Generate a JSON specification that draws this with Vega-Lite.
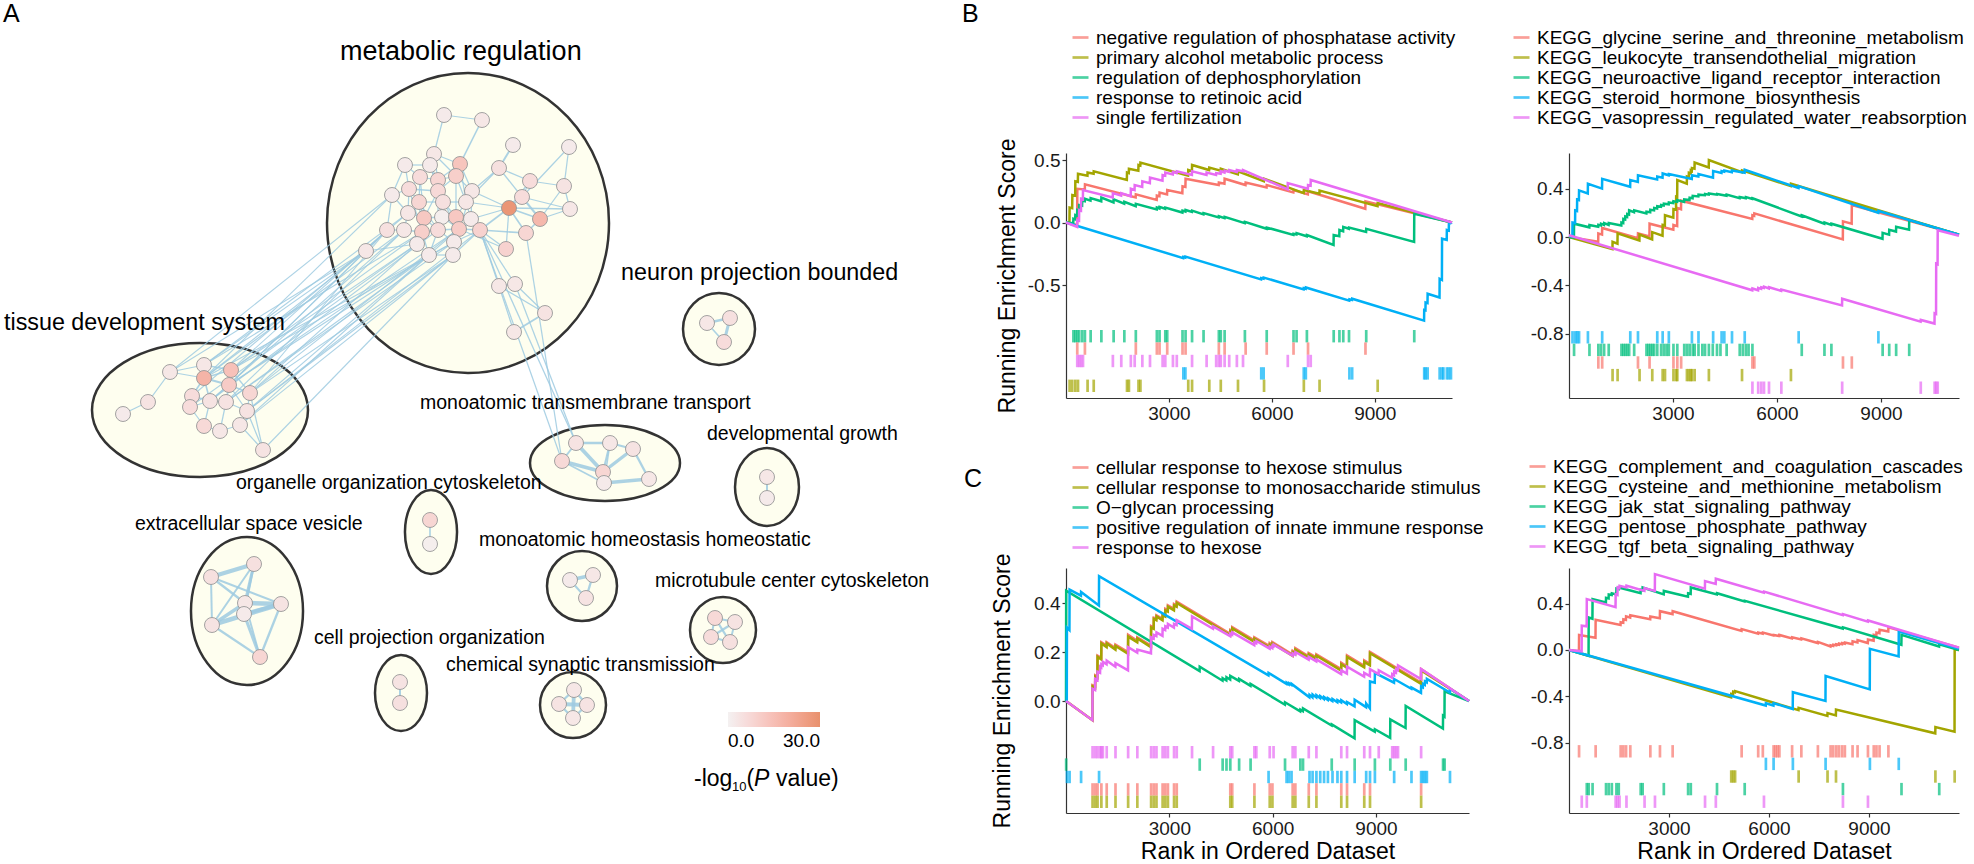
{
"$schema":"https://vega.github.io/schema/vega-lite/v6.json",
"padding":0,
"background":"white",
"config":{"font":"Liberation Sans","view":{"stroke":null},
"axis":{"domainColor":"#333333","domainWidth":1.2,"tickColor":"#333333","tickWidth":1.2,"tickSize":4,"labelFontSize":19,"labelColor":"#1a1a1a","labelFont":"Liberation Sans","titleFont":"Liberation Sans","titleFontSize":23,"titleFontWeight":"normal","titleColor":"#000000","grid":false,"labelPadding":2},
"legend":{"labelFont":"Liberation Sans","labelFontSize":19,"labelColor":"#000000","labelLimit":1000,"symbolType":"stroke","symbolStrokeWidth":2.7,"symbolSize":256,"rowPadding":0,"labelOffset":6,"padding":0}},
"datasets":{
"terms":[
{"id":"B1a","name":"negative regulation of phosphatase activity"},{"id":"B1b","name":"primary alcohol metabolic process"},{"id":"B1c","name":"regulation of dephosphorylation"},{"id":"B1d","name":"response to retinoic acid"},{"id":"B1e","name":"single fertilization"},
{"id":"B2a","name":"KEGG_glycine_serine_and_threonine_metabolism"},{"id":"B2b","name":"KEGG_leukocyte_transendothelial_migration"},{"id":"B2c","name":"KEGG_neuroactive_ligand_receptor_interaction"},{"id":"B2d","name":"KEGG_steroid_hormone_biosynthesis"},{"id":"B2e","name":"KEGG_vasopressin_regulated_water_reabsorption"},
{"id":"C1a","name":"cellular response to hexose stimulus"},{"id":"C1b","name":"cellular response to monosaccharide stimulus"},{"id":"C1c","name":"O−glycan processing"},{"id":"C1d","name":"positive regulation of innate immune response"},{"id":"C1e","name":"response to hexose"},
{"id":"C2a","name":"KEGG_complement_and_coagulation_cascades"},{"id":"C2b","name":"KEGG_cysteine_and_methionine_metabolism"},{"id":"C2c","name":"KEGG_jak_stat_signaling_pathway"},{"id":"C2d","name":"KEGG_pentose_phosphate_pathway"},{"id":"C2e","name":"KEGG_tgf_beta_signaling_pathway"}],
"curves":[
{"id":"B1a","r":0,"es":0},{"id":"B1a","r":325,"es":-0.02},{"id":"B1a","r":330,"es":0.27},{"id":"B1a","r":548,"es":0.265},{"id":"B1a","r":553,"es":0.305},{"id":"B1a","r":2030,"es":0.2},{"id":"B1a","r":2035,"es":0.225},{"id":"B1a","r":2643,"es":0.18},{"id":"B1a","r":2648,"es":0.215},{"id":"B1a","r":2722,"es":0.21},{"id":"B1a","r":2727,"es":0.24},{"id":"B1a","r":2945,"es":0.225},{"id":"B1a","r":2950,"es":0.26},{"id":"B1a","r":3391,"es":0.235},{"id":"B1a","r":3396,"es":0.29},{"id":"B1a","r":3480,"es":0.285},{"id":"B1a","r":3485,"es":0.35},{"id":"B1a","r":4450,"es":0.3},{"id":"B1a","r":4455,"es":0.32},{"id":"B1a","r":4618,"es":0.31},{"id":"B1a","r":4623,"es":0.35},{"id":"B1a","r":5231,"es":0.3},{"id":"B1a","r":5236,"es":0.32},{"id":"B1a","r":5845,"es":0.28},{"id":"B1a","r":5850,"es":0.3},{"id":"B1a","r":6626,"es":0.24},{"id":"B1a","r":6631,"es":0.26},{"id":"B1a","r":7049,"es":0.225},{"id":"B1a","r":7054,"es":0.25},{"id":"B1a","r":8723,"es":0.11},{"id":"B1a","r":8728,"es":0.17},{"id":"B1a","r":11250,"es":0},
{"id":"B1b","r":0,"es":0},{"id":"B1b","r":100,"es":-0.005},{"id":"B1b","r":105,"es":0.12},{"id":"B1b","r":180,"es":0.115},{"id":"B1b","r":185,"es":0.22},{"id":"B1b","r":268,"es":0.215},{"id":"B1b","r":272,"es":0.33},{"id":"B1b","r":345,"es":0.325},{"id":"B1b","r":350,"es":0.39},{"id":"B1b","r":625,"es":0.375},{"id":"B1b","r":629,"es":0.4},{"id":"B1b","r":805,"es":0.39},{"id":"B1b","r":808,"es":0.41},{"id":"B1b","r":1773,"es":0.34},{"id":"B1b","r":1778,"es":0.4},{"id":"B1b","r":1830,"es":0.395},{"id":"B1b","r":1834,"es":0.43},{"id":"B1b","r":2108,"es":0.415},{"id":"B1b","r":2113,"es":0.46},{"id":"B1b","r":2165,"es":0.455},{"id":"B1b","r":2169,"es":0.48},{"id":"B1b","r":3558,"es":0.375},{"id":"B1b","r":3563,"es":0.42},{"id":"B1b","r":3670,"es":0.41},{"id":"B1b","r":3674,"es":0.46},{"id":"B1b","r":4170,"es":0.42},{"id":"B1b","r":4176,"es":0.44},{"id":"B1b","r":4506,"es":0.415},{"id":"B1b","r":4511,"es":0.43},{"id":"B1b","r":5008,"es":0.385},{"id":"B1b","r":5013,"es":0.41},{"id":"B1b","r":5767,"es":0.33},{"id":"B1b","r":5772,"es":0.35},{"id":"B1b","r":6927,"es":0.235},{"id":"B1b","r":6932,"es":0.26},{"id":"B1b","r":7385,"es":0.23},{"id":"B1b","r":7390,"es":0.255},{"id":"B1b","r":9080,"es":0.13},{"id":"B1b","r":9084,"es":0.155},{"id":"B1b","r":11250,"es":0},
{"id":"B1c","r":0,"es":0},{"id":"B1c","r":212,"es":-0.005},{"id":"B1c","r":216,"es":0.03},{"id":"B1c","r":268,"es":0.025},{"id":"B1c","r":272,"es":0.06},{"id":"B1c","r":324,"es":0.055},{"id":"B1c","r":328,"es":0.1},{"id":"B1c","r":380,"es":0.095},{"id":"B1c","r":384,"es":0.14},{"id":"B1c","r":469,"es":0.135},{"id":"B1c","r":473,"es":0.175},{"id":"B1c","r":547,"es":0.17},{"id":"B1c","r":551,"es":0.19},{"id":"B1c","r":714,"es":0.175},{"id":"B1c","r":718,"es":0.195},{"id":"B1c","r":1027,"es":0.17},{"id":"B1c","r":1031,"es":0.2},{"id":"B1c","r":1384,"es":0.16},{"id":"B1c","r":1388,"es":0.185},{"id":"B1c","r":1696,"es":0.15},{"id":"B1c","r":1700,"es":0.165},{"id":"B1c","r":2031,"es":0.13},{"id":"B1c","r":2035,"es":0.15},{"id":"B1c","r":2644,"es":0.105},{"id":"B1c","r":2648,"es":0.12},{"id":"B1c","r":2723,"es":0.112},{"id":"B1c","r":2727,"es":0.125},{"id":"B1c","r":2890,"es":0.11},{"id":"B1c","r":2894,"es":0.12},{"id":"B1c","r":3392,"es":0.08},{"id":"B1c","r":3396,"es":0.095},{"id":"B1c","r":3481,"es":0.088},{"id":"B1c","r":3485,"es":0.1},{"id":"B1c","r":3670,"es":0.085},{"id":"B1c","r":3674,"es":0.095},{"id":"B1c","r":4005,"es":0.065},{"id":"B1c","r":4009,"es":0.075},{"id":"B1c","r":4451,"es":0.04},{"id":"B1c","r":4455,"es":0.05},{"id":"B1c","r":4619,"es":0.035},{"id":"B1c","r":4623,"es":0.045},{"id":"B1c","r":5210,"es":-0.005},{"id":"B1c","r":5214,"es":0.005},{"id":"B1c","r":5846,"es":-0.05},{"id":"B1c","r":5850,"es":-0.04},{"id":"B1c","r":6627,"es":-0.1},{"id":"B1c","r":6631,"es":-0.09},{"id":"B1c","r":6716,"es":-0.095},{"id":"B1c","r":6720,"es":-0.085},{"id":"B1c","r":7017,"es":-0.11},{"id":"B1c","r":7021,"es":-0.1},{"id":"B1c","r":7798,"es":-0.18},{"id":"B1c","r":7802,"es":-0.1},{"id":"B1c","r":7965,"es":-0.11},{"id":"B1c","r":7969,"es":-0.06},{"id":"B1c","r":8077,"es":-0.07},{"id":"B1c","r":8081,"es":-0.035},{"id":"B1c","r":8244,"es":-0.05},{"id":"B1c","r":8248,"es":-0.04},{"id":"B1c","r":8746,"es":-0.075},{"id":"B1c","r":8750,"es":-0.05},{"id":"B1c","r":10146,"es":-0.155},{"id":"B1c","r":10150,"es":0.07},{"id":"B1c","r":11250,"es":0},
{"id":"B1d","r":0,"es":0},{"id":"B1d","r":3416,"es":-0.285},{"id":"B1d","r":3420,"es":-0.275},{"id":"B1d","r":3476,"es":-0.28},{"id":"B1d","r":3480,"es":-0.272},{"id":"B1d","r":5686,"es":-0.455},{"id":"B1d","r":5690,"es":-0.445},{"id":"B1d","r":5756,"es":-0.45},{"id":"B1d","r":5760,"es":-0.44},{"id":"B1d","r":6926,"es":-0.535},{"id":"B1d","r":6930,"es":-0.525},{"id":"B1d","r":6986,"es":-0.53},{"id":"B1d","r":6990,"es":-0.52},{"id":"B1d","r":8256,"es":-0.625},{"id":"B1d","r":8260,"es":-0.615},{"id":"B1d","r":8336,"es":-0.62},{"id":"B1d","r":8340,"es":-0.61},{"id":"B1d","r":10436,"es":-0.785},{"id":"B1d","r":10440,"es":-0.7},{"id":"B1d","r":10476,"es":-0.703},{"id":"B1d","r":10480,"es":-0.64},{"id":"B1d","r":10536,"es":-0.645},{"id":"B1d","r":10540,"es":-0.57},{"id":"B1d","r":10886,"es":-0.6},{"id":"B1d","r":10890,"es":-0.45},{"id":"B1d","r":10956,"es":-0.46},{"id":"B1d","r":10960,"es":-0.13},{"id":"B1d","r":11096,"es":-0.14},{"id":"B1d","r":11100,"es":-0.06},{"id":"B1d","r":11156,"es":-0.065},{"id":"B1d","r":11160,"es":-0.01},{"id":"B1d","r":11250,"es":0},
{"id":"B1e","r":0,"es":0},{"id":"B1e","r":324,"es":-0.035},{"id":"B1e","r":328,"es":0.02},{"id":"B1e","r":380,"es":0.015},{"id":"B1e","r":384,"es":0.1},{"id":"B1e","r":436,"es":0.095},{"id":"B1e","r":440,"es":0.19},{"id":"B1e","r":492,"es":0.185},{"id":"B1e","r":496,"es":0.26},{"id":"B1e","r":1362,"es":0.2},{"id":"B1e","r":1366,"es":0.235},{"id":"B1e","r":1607,"es":0.215},{"id":"B1e","r":1611,"es":0.235},{"id":"B1e","r":1886,"es":0.21},{"id":"B1e","r":1890,"es":0.27},{"id":"B1e","r":1998,"es":0.26},{"id":"B1e","r":2002,"es":0.3},{"id":"B1e","r":2221,"es":0.285},{"id":"B1e","r":2225,"es":0.33},{"id":"B1e","r":2444,"es":0.315},{"id":"B1e","r":2448,"es":0.36},{"id":"B1e","r":2812,"es":0.335},{"id":"B1e","r":2816,"es":0.38},{"id":"B1e","r":2890,"es":0.375},{"id":"B1e","r":2894,"es":0.4},{"id":"B1e","r":3113,"es":0.385},{"id":"B1e","r":3117,"es":0.405},{"id":"B1e","r":3225,"es":0.395},{"id":"B1e","r":3229,"es":0.41},{"id":"B1e","r":3670,"es":0.38},{"id":"B1e","r":3674,"es":0.41},{"id":"B1e","r":4094,"es":0.38},{"id":"B1e","r":4098,"es":0.4},{"id":"B1e","r":4373,"es":0.38},{"id":"B1e","r":4377,"es":0.395},{"id":"B1e","r":4507,"es":0.39},{"id":"B1e","r":4511,"es":0.41},{"id":"B1e","r":4619,"es":0.4},{"id":"B1e","r":4623,"es":0.415},{"id":"B1e","r":4753,"es":0.405},{"id":"B1e","r":4757,"es":0.42},{"id":"B1e","r":4976,"es":0.405},{"id":"B1e","r":4980,"es":0.42},{"id":"B1e","r":5155,"es":0.41},{"id":"B1e","r":5159,"es":0.42},{"id":"B1e","r":6460,"es":0.265},{"id":"B1e","r":6464,"es":0.315},{"id":"B1e","r":7050,"es":0.27},{"id":"B1e","r":7054,"es":0.3},{"id":"B1e","r":7129,"es":0.295},{"id":"B1e","r":7133,"es":0.34},{"id":"B1e","r":11250,"es":0},
{"id":"B2a","r":0,"es":0},{"id":"B2a","r":842,"es":-0.04},{"id":"B2a","r":846,"es":0.03},{"id":"B2a","r":953,"es":0.02},{"id":"B2a","r":957,"es":0.075},{"id":"B2a","r":1986,"es":-0.01},{"id":"B2a","r":1990,"es":0.03},{"id":"B2a","r":2320,"es":0.005},{"id":"B2a","r":2324,"es":0.11},{"id":"B2a","r":3009,"es":0.06},{"id":"B2a","r":3013,"es":0.1},{"id":"B2a","r":3120,"es":0.09},{"id":"B2a","r":3124,"es":0.24},{"id":"B2a","r":3231,"es":0.23},{"id":"B2a","r":3235,"es":0.3},{"id":"B2a","r":5287,"es":0.15},{"id":"B2a","r":5291,"es":0.18},{"id":"B2a","r":5342,"es":0.175},{"id":"B2a","r":5346,"es":0.195},{"id":"B2a","r":7899,"es":-0.02},{"id":"B2a","r":7903,"es":0.13},{"id":"B2a","r":8154,"es":0.11},{"id":"B2a","r":8158,"es":0.265},{"id":"B2a","r":11250,"es":0.02},
{"id":"B2b","r":0,"es":0},{"id":"B2b","r":1253,"es":-0.1},{"id":"B2b","r":1257,"es":-0.04},{"id":"B2b","r":1398,"es":-0.055},{"id":"B2b","r":1402,"es":0.03},{"id":"B2b","r":2031,"es":-0.03},{"id":"B2b","r":2035,"es":0.02},{"id":"B2b","r":2398,"es":-0.02},{"id":"B2b","r":2402,"es":0.04},{"id":"B2b","r":2698,"es":0.01},{"id":"B2b","r":2702,"es":0.1},{"id":"B2b","r":2765,"es":0.095},{"id":"B2b","r":2769,"es":0.18},{"id":"B2b","r":3009,"es":0.16},{"id":"B2b","r":3013,"es":0.23},{"id":"B2b","r":3087,"es":0.225},{"id":"B2b","r":3091,"es":0.33},{"id":"B2b","r":3120,"es":0.325},{"id":"B2b","r":3124,"es":0.47},{"id":"B2b","r":3398,"es":0.44},{"id":"B2b","r":3402,"es":0.5},{"id":"B2b","r":3454,"es":0.495},{"id":"B2b","r":3458,"es":0.53},{"id":"B2b","r":3509,"es":0.525},{"id":"B2b","r":3513,"es":0.55},{"id":"B2b","r":3542,"es":0.545},{"id":"B2b","r":3546,"es":0.57},{"id":"B2b","r":3620,"es":0.565},{"id":"B2b","r":3624,"es":0.615},{"id":"B2b","r":4031,"es":0.575},{"id":"B2b","r":4035,"es":0.635},{"id":"B2b","r":4987,"es":0.535},{"id":"B2b","r":4991,"es":0.55},{"id":"B2b","r":6398,"es":0.42},{"id":"B2b","r":6402,"es":0.44},{"id":"B2b","r":11250,"es":0.02},
{"id":"B2c","r":0,"es":0},{"id":"B2c","r":142,"es":-0.005},{"id":"B2c","r":146,"es":0.11},{"id":"B2c","r":586,"es":0.08},{"id":"B2c","r":590,"es":0.1},{"id":"B2c","r":842,"es":0.085},{"id":"B2c","r":846,"es":0.1},{"id":"B2c","r":920,"es":0.095},{"id":"B2c","r":924,"es":0.11},{"id":"B2c","r":1009,"es":0.1},{"id":"B2c","r":1013,"es":0.115},{"id":"B2c","r":1142,"es":0.1},{"id":"B2c","r":1146,"es":0.115},{"id":"B2c","r":1509,"es":0.095},{"id":"B2c","r":1513,"es":0.12},{"id":"B2c","r":1564,"es":0.115},{"id":"B2c","r":1568,"es":0.15},{"id":"B2c","r":1620,"es":0.145},{"id":"B2c","r":1624,"es":0.17},{"id":"B2c","r":1676,"es":0.165},{"id":"B2c","r":1680,"es":0.19},{"id":"B2c","r":1731,"es":0.185},{"id":"B2c","r":1735,"es":0.22},{"id":"B2c","r":1876,"es":0.205},{"id":"B2c","r":1880,"es":0.22},{"id":"B2c","r":2231,"es":0.195},{"id":"B2c","r":2235,"es":0.21},{"id":"B2c","r":2342,"es":0.205},{"id":"B2c","r":2346,"es":0.225},{"id":"B2c","r":2453,"es":0.22},{"id":"B2c","r":2457,"es":0.24},{"id":"B2c","r":2542,"es":0.235},{"id":"B2c","r":2546,"es":0.255},{"id":"B2c","r":2653,"es":0.25},{"id":"B2c","r":2657,"es":0.265},{"id":"B2c","r":2731,"es":0.26},{"id":"B2c","r":2735,"es":0.275},{"id":"B2c","r":2876,"es":0.27},{"id":"B2c","r":2880,"es":0.285},{"id":"B2c","r":3009,"es":0.28},{"id":"B2c","r":3013,"es":0.295},{"id":"B2c","r":3120,"es":0.29},{"id":"B2c","r":3124,"es":0.305},{"id":"B2c","r":3320,"es":0.29},{"id":"B2c","r":3324,"es":0.31},{"id":"B2c","r":3476,"es":0.305},{"id":"B2c","r":3480,"es":0.325},{"id":"B2c","r":3565,"es":0.32},{"id":"B2c","r":3569,"es":0.34},{"id":"B2c","r":3731,"es":0.335},{"id":"B2c","r":3735,"es":0.35},{"id":"B2c","r":3920,"es":0.345},{"id":"B2c","r":3924,"es":0.355},{"id":"B2c","r":4031,"es":0.35},{"id":"B2c","r":4035,"es":0.36},{"id":"B2c","r":4265,"es":0.35},{"id":"B2c","r":4269,"es":0.355},{"id":"B2c","r":4543,"es":0.34},{"id":"B2c","r":4547,"es":0.35},{"id":"B2c","r":4921,"es":0.32},{"id":"B2c","r":4925,"es":0.33},{"id":"B2c","r":5098,"es":0.32},{"id":"B2c","r":5102,"es":0.33},{"id":"B2c","r":5287,"es":0.315},{"id":"B2c","r":5291,"es":0.32},{"id":"B2c","r":6710,"es":0.17},{"id":"B2c","r":6714,"es":0.18},{"id":"B2c","r":7365,"es":0.11},{"id":"B2c","r":7369,"es":0.12},{"id":"B2c","r":7565,"es":0.1},{"id":"B2c","r":7569,"es":0.11},{"id":"B2c","r":9043,"es":-0.015},{"id":"B2c","r":9047,"es":0.035},{"id":"B2c","r":9233,"es":0.02},{"id":"B2c","r":9237,"es":0.06},{"id":"B2c","r":9433,"es":0.045},{"id":"B2c","r":9437,"es":0.085},{"id":"B2c","r":9810,"es":0.06},{"id":"B2c","r":9814,"es":0.14},{"id":"B2c","r":11250,"es":0.02},
{"id":"B2d","r":0,"es":0.01},{"id":"B2d","r":97,"es":0.005},{"id":"B2d","r":101,"es":0.12},{"id":"B2d","r":175,"es":0.115},{"id":"B2d","r":179,"es":0.22},{"id":"B2d","r":231,"es":0.215},{"id":"B2d","r":235,"es":0.31},{"id":"B2d","r":286,"es":0.305},{"id":"B2d","r":290,"es":0.385},{"id":"B2d","r":542,"es":0.36},{"id":"B2d","r":546,"es":0.44},{"id":"B2d","r":953,"es":0.4},{"id":"B2d","r":957,"es":0.48},{"id":"B2d","r":1764,"es":0.415},{"id":"B2d","r":1768,"es":0.47},{"id":"B2d","r":1986,"es":0.455},{"id":"B2d","r":1990,"es":0.51},{"id":"B2d","r":2542,"es":0.475},{"id":"B2d","r":2546,"es":0.5},{"id":"B2d","r":2698,"es":0.49},{"id":"B2d","r":2702,"es":0.525},{"id":"B2d","r":2876,"es":0.51},{"id":"B2d","r":2880,"es":0.52},{"id":"B2d","r":3542,"es":0.48},{"id":"B2d","r":3546,"es":0.51},{"id":"B2d","r":3731,"es":0.5},{"id":"B2d","r":3735,"es":0.52},{"id":"B2d","r":4154,"es":0.49},{"id":"B2d","r":4158,"es":0.545},{"id":"B2d","r":4398,"es":0.53},{"id":"B2d","r":4402,"es":0.545},{"id":"B2d","r":4476,"es":0.54},{"id":"B2d","r":4480,"es":0.55},{"id":"B2d","r":4698,"es":0.535},{"id":"B2d","r":4702,"es":0.55},{"id":"B2d","r":5065,"es":0.53},{"id":"B2d","r":5069,"es":0.555},{"id":"B2d","r":6621,"es":0.405},{"id":"B2d","r":6625,"es":0.42},{"id":"B2d","r":8921,"es":0.2},{"id":"B2d","r":8925,"es":0.215},{"id":"B2d","r":11250,"es":0.02},
{"id":"B2e","r":0,"es":0.015},{"id":"B2e","r":5287,"es":-0.44},{"id":"B2e","r":5291,"es":-0.425},{"id":"B2e","r":5454,"es":-0.44},{"id":"B2e","r":5458,"es":-0.42},{"id":"B2e","r":5543,"es":-0.428},{"id":"B2e","r":5547,"es":-0.415},{"id":"B2e","r":5621,"es":-0.42},{"id":"B2e","r":5625,"es":-0.41},{"id":"B2e","r":5765,"es":-0.425},{"id":"B2e","r":5769,"es":-0.415},{"id":"B2e","r":6121,"es":-0.445},{"id":"B2e","r":6125,"es":-0.435},{"id":"B2e","r":7876,"es":-0.565},{"id":"B2e","r":7880,"es":-0.51},{"id":"B2e","r":10143,"es":-0.7},{"id":"B2e","r":10147,"es":-0.685},{"id":"B2e","r":10543,"es":-0.715},{"id":"B2e","r":10547,"es":-0.63},{"id":"B2e","r":10588,"es":-0.635},{"id":"B2e","r":10592,"es":-0.22},{"id":"B2e","r":10632,"es":-0.225},{"id":"B2e","r":10636,"es":0.055},{"id":"B2e","r":11250,"es":0.01},
{"id":"C1a","r":0,"es":0},{"id":"C1a","r":767,"es":-0.078},{"id":"C1a","r":771,"es":0.065},{"id":"C1a","r":845,"es":0.06},{"id":"C1a","r":849,"es":0.105},{"id":"C1a","r":912,"es":0.1},{"id":"C1a","r":916,"es":0.185},{"id":"C1a","r":1023,"es":0.176},{"id":"C1a","r":1027,"es":0.24},{"id":"C1a","r":1178,"es":0.226},{"id":"C1a","r":1182,"es":0.24},{"id":"C1a","r":1433,"es":0.216},{"id":"C1a","r":1437,"es":0.23},{"id":"C1a","r":1800,"es":0.2},{"id":"C1a","r":1804,"es":0.27},{"id":"C1a","r":2067,"es":0.246},{"id":"C1a","r":2071,"es":0.26},{"id":"C1a","r":2467,"es":0.226},{"id":"C1a","r":2471,"es":0.306},{"id":"C1a","r":2545,"es":0.3},{"id":"C1a","r":2549,"es":0.34},{"id":"C1a","r":2623,"es":0.336},{"id":"C1a","r":2627,"es":0.35},{"id":"C1a","r":2801,"es":0.336},{"id":"C1a","r":2805,"es":0.356},{"id":"C1a","r":2879,"es":0.35},{"id":"C1a","r":2883,"es":0.376},{"id":"C1a","r":2955,"es":0.37},{"id":"C1a","r":2959,"es":0.39},{"id":"C1a","r":3133,"es":0.376},{"id":"C1a","r":3137,"es":0.396},{"id":"C1a","r":3211,"es":0.39},{"id":"C1a","r":3215,"es":0.406},{"id":"C1a","r":4766,"es":0.274},{"id":"C1a","r":4770,"es":0.29},{"id":"C1a","r":4822,"es":0.286},{"id":"C1a","r":4826,"es":0.302},{"id":"C1a","r":5466,"es":0.248},{"id":"C1a","r":5470,"es":0.26},{"id":"C1a","r":5911,"es":0.224},{"id":"C1a","r":5915,"es":0.236},{"id":"C1a","r":5989,"es":0.23},{"id":"C1a","r":5993,"es":0.24},{"id":"C1a","r":6577,"es":0.19},{"id":"C1a","r":6581,"es":0.205},{"id":"C1a","r":6655,"es":0.2},{"id":"C1a","r":6659,"es":0.216},{"id":"C1a","r":7044,"es":0.183},{"id":"C1a","r":7048,"es":0.196},{"id":"C1a","r":7266,"es":0.178},{"id":"C1a","r":7270,"es":0.19},{"id":"C1a","r":7988,"es":0.13},{"id":"C1a","r":7992,"es":0.156},{"id":"C1a","r":8155,"es":0.142},{"id":"C1a","r":8159,"es":0.186},{"id":"C1a","r":8655,"es":0.144},{"id":"C1a","r":8659,"es":0.166},{"id":"C1a","r":8822,"es":0.152},{"id":"C1a","r":8826,"es":0.2},{"id":"C1a","r":10306,"es":0.075},{"id":"C1a","r":10310,"es":0.13},{"id":"C1a","r":11700,"es":0},
{"id":"C1b","r":0,"es":0},{"id":"C1b","r":767,"es":-0.078},{"id":"C1b","r":771,"es":0.06},{"id":"C1b","r":845,"es":0.054},{"id":"C1b","r":849,"es":0.1},{"id":"C1b","r":912,"es":0.095},{"id":"C1b","r":916,"es":0.18},{"id":"C1b","r":1023,"es":0.17},{"id":"C1b","r":1027,"es":0.235},{"id":"C1b","r":1178,"es":0.22},{"id":"C1b","r":1182,"es":0.235},{"id":"C1b","r":1433,"es":0.21},{"id":"C1b","r":1437,"es":0.225},{"id":"C1b","r":1800,"es":0.193},{"id":"C1b","r":1804,"es":0.263},{"id":"C1b","r":2067,"es":0.24},{"id":"C1b","r":2071,"es":0.255},{"id":"C1b","r":2467,"es":0.22},{"id":"C1b","r":2471,"es":0.3},{"id":"C1b","r":2545,"es":0.295},{"id":"C1b","r":2549,"es":0.335},{"id":"C1b","r":2623,"es":0.33},{"id":"C1b","r":2627,"es":0.345},{"id":"C1b","r":2801,"es":0.33},{"id":"C1b","r":2805,"es":0.35},{"id":"C1b","r":2879,"es":0.345},{"id":"C1b","r":2883,"es":0.37},{"id":"C1b","r":2955,"es":0.365},{"id":"C1b","r":2959,"es":0.385},{"id":"C1b","r":3133,"es":0.37},{"id":"C1b","r":3137,"es":0.39},{"id":"C1b","r":3211,"es":0.385},{"id":"C1b","r":3215,"es":0.4},{"id":"C1b","r":4766,"es":0.268},{"id":"C1b","r":4770,"es":0.285},{"id":"C1b","r":4822,"es":0.281},{"id":"C1b","r":4826,"es":0.296},{"id":"C1b","r":5466,"es":0.242},{"id":"C1b","r":5470,"es":0.255},{"id":"C1b","r":5911,"es":0.218},{"id":"C1b","r":5915,"es":0.23},{"id":"C1b","r":5989,"es":0.224},{"id":"C1b","r":5993,"es":0.235},{"id":"C1b","r":6577,"es":0.185},{"id":"C1b","r":6581,"es":0.2},{"id":"C1b","r":6655,"es":0.194},{"id":"C1b","r":6659,"es":0.21},{"id":"C1b","r":7044,"es":0.177},{"id":"C1b","r":7048,"es":0.19},{"id":"C1b","r":7266,"es":0.172},{"id":"C1b","r":7270,"es":0.185},{"id":"C1b","r":7988,"es":0.124},{"id":"C1b","r":7992,"es":0.15},{"id":"C1b","r":8155,"es":0.136},{"id":"C1b","r":8159,"es":0.18},{"id":"C1b","r":8655,"es":0.138},{"id":"C1b","r":8659,"es":0.16},{"id":"C1b","r":8822,"es":0.146},{"id":"C1b","r":8826,"es":0.195},{"id":"C1b","r":10306,"es":0.07},{"id":"C1b","r":10310,"es":0.125},{"id":"C1b","r":11700,"es":0},
{"id":"C1c","r":0,"es":0},{"id":"C1c","r":5,"es":0.45},{"id":"C1c","r":3878,"es":0.122},{"id":"C1c","r":3882,"es":0.14},{"id":"C1c","r":4544,"es":0.083},{"id":"C1c","r":4548,"es":0.093},{"id":"C1c","r":4655,"es":0.084},{"id":"C1c","r":4659,"es":0.097},{"id":"C1c","r":4766,"es":0.088},{"id":"C1c","r":4770,"es":0.103},{"id":"C1c","r":5022,"es":0.082},{"id":"C1c","r":5026,"es":0.09},{"id":"C1c","r":5355,"es":0.062},{"id":"C1c","r":5359,"es":0.07},{"id":"C1c","r":6355,"es":-0.015},{"id":"C1c","r":6359,"es":-0.005},{"id":"C1c","r":6799,"es":-0.042},{"id":"C1c","r":6803,"es":-0.035},{"id":"C1c","r":6877,"es":-0.041},{"id":"C1c","r":6881,"es":-0.03},{"id":"C1c","r":7711,"es":-0.1},{"id":"C1c","r":7715,"es":-0.095},{"id":"C1c","r":8377,"es":-0.152},{"id":"C1c","r":8381,"es":-0.078},{"id":"C1c","r":8964,"es":-0.125},{"id":"C1c","r":8968,"es":-0.115},{"id":"C1c","r":9411,"es":-0.15},{"id":"C1c","r":9415,"es":-0.075},{"id":"C1c","r":9858,"es":-0.11},{"id":"C1c","r":9862,"es":-0.02},{"id":"C1c","r":10943,"es":-0.112},{"id":"C1c","r":10947,"es":-0.06},{"id":"C1c","r":10988,"es":-0.064},{"id":"C1c","r":10992,"es":0.04},{"id":"C1c","r":11700,"es":0},
{"id":"C1d","r":0,"es":0},{"id":"C1d","r":23,"es":-0.002},{"id":"C1d","r":27,"es":0.3},{"id":"C1d","r":100,"es":0.29},{"id":"C1d","r":104,"es":0.455},{"id":"C1d","r":434,"es":0.43},{"id":"C1d","r":438,"es":0.445},{"id":"C1d","r":956,"es":0.39},{"id":"C1d","r":960,"es":0.51},{"id":"C1d","r":5877,"es":0.105},{"id":"C1d","r":5881,"es":0.115},{"id":"C1d","r":6400,"es":0.07},{"id":"C1d","r":6404,"es":0.075},{"id":"C1d","r":6466,"es":0.068},{"id":"C1d","r":6470,"es":0.073},{"id":"C1d","r":6544,"es":0.066},{"id":"C1d","r":6548,"es":0.07},{"id":"C1d","r":7066,"es":0.015},{"id":"C1d","r":7070,"es":0.025},{"id":"C1d","r":7155,"es":0.015},{"id":"C1d","r":7159,"es":0.027},{"id":"C1d","r":7266,"es":0.015},{"id":"C1d","r":7270,"es":0.024},{"id":"C1d","r":7377,"es":0.012},{"id":"C1d","r":7381,"es":0.02},{"id":"C1d","r":7488,"es":0.008},{"id":"C1d","r":7492,"es":0.016},{"id":"C1d","r":7600,"es":0.005},{"id":"C1d","r":7604,"es":0.012},{"id":"C1d","r":7733,"es":0},{"id":"C1d","r":7737,"es":0.008},{"id":"C1d","r":7877,"es":-0.005},{"id":"C1d","r":7881,"es":0.004},{"id":"C1d","r":7988,"es":-0.005},{"id":"C1d","r":7992,"es":0.003},{"id":"C1d","r":8155,"es":-0.012},{"id":"C1d","r":8159,"es":-0.004},{"id":"C1d","r":8377,"es":-0.022},{"id":"C1d","r":8381,"es":0.005},{"id":"C1d","r":8711,"es":-0.025},{"id":"C1d","r":8715,"es":-0.01},{"id":"C1d","r":8822,"es":-0.03},{"id":"C1d","r":8826,"es":0.08},{"id":"C1d","r":8964,"es":0.075},{"id":"C1d","r":8968,"es":0.115},{"id":"C1d","r":9523,"es":0.075},{"id":"C1d","r":9527,"es":0.09},{"id":"C1d","r":10026,"es":0.05},{"id":"C1d","r":10030,"es":0.055},{"id":"C1d","r":10306,"es":0.033},{"id":"C1d","r":10310,"es":0.06},{"id":"C1d","r":10361,"es":0.056},{"id":"C1d","r":10365,"es":0.07},{"id":"C1d","r":10417,"es":0.066},{"id":"C1d","r":10421,"es":0.08},{"id":"C1d","r":10473,"es":0.076},{"id":"C1d","r":10477,"es":0.09},{"id":"C1d","r":11144,"es":0.035},{"id":"C1d","r":11148,"es":0.05},{"id":"C1d","r":11700,"es":0},
{"id":"C1e","r":0,"es":0},{"id":"C1e","r":767,"es":-0.078},{"id":"C1e","r":771,"es":0.05},{"id":"C1e","r":845,"es":0.045},{"id":"C1e","r":849,"es":0.09},{"id":"C1e","r":912,"es":0.085},{"id":"C1e","r":916,"es":0.12},{"id":"C1e","r":989,"es":0.115},{"id":"C1e","r":993,"es":0.14},{"id":"C1e","r":1023,"es":0.137},{"id":"C1e","r":1027,"es":0.15},{"id":"C1e","r":1067,"es":0.146},{"id":"C1e","r":1071,"es":0.16},{"id":"C1e","r":1178,"es":0.15},{"id":"C1e","r":1182,"es":0.165},{"id":"C1e","r":1433,"es":0.14},{"id":"C1e","r":1437,"es":0.155},{"id":"C1e","r":1800,"es":0.125},{"id":"C1e","r":1804,"es":0.22},{"id":"C1e","r":2067,"es":0.198},{"id":"C1e","r":2071,"es":0.21},{"id":"C1e","r":2467,"es":0.195},{"id":"C1e","r":2471,"es":0.26},{"id":"C1e","r":2545,"es":0.255},{"id":"C1e","r":2549,"es":0.27},{"id":"C1e","r":2623,"es":0.265},{"id":"C1e","r":2627,"es":0.28},{"id":"C1e","r":2801,"es":0.266},{"id":"C1e","r":2805,"es":0.295},{"id":"C1e","r":2879,"es":0.29},{"id":"C1e","r":2883,"es":0.305},{"id":"C1e","r":2955,"es":0.3},{"id":"C1e","r":2959,"es":0.315},{"id":"C1e","r":3133,"es":0.3},{"id":"C1e","r":3137,"es":0.315},{"id":"C1e","r":3211,"es":0.31},{"id":"C1e","r":3215,"es":0.33},{"id":"C1e","r":3655,"es":0.295},{"id":"C1e","r":3659,"es":0.345},{"id":"C1e","r":4266,"es":0.295},{"id":"C1e","r":4270,"es":0.305},{"id":"C1e","r":4766,"es":0.265},{"id":"C1e","r":4770,"es":0.275},{"id":"C1e","r":4822,"es":0.271},{"id":"C1e","r":4826,"es":0.28},{"id":"C1e","r":5466,"es":0.228},{"id":"C1e","r":5470,"es":0.24},{"id":"C1e","r":5522,"es":0.236},{"id":"C1e","r":5526,"es":0.245},{"id":"C1e","r":5911,"es":0.214},{"id":"C1e","r":5915,"es":0.222},{"id":"C1e","r":5989,"es":0.216},{"id":"C1e","r":5993,"es":0.225},{"id":"C1e","r":6022,"es":0.223},{"id":"C1e","r":6026,"es":0.23},{"id":"C1e","r":6577,"es":0.185},{"id":"C1e","r":6581,"es":0.195},{"id":"C1e","r":6655,"es":0.189},{"id":"C1e","r":6659,"es":0.2},{"id":"C1e","r":7044,"es":0.169},{"id":"C1e","r":7048,"es":0.18},{"id":"C1e","r":7266,"es":0.162},{"id":"C1e","r":7270,"es":0.17},{"id":"C1e","r":7988,"es":0.11},{"id":"C1e","r":7992,"es":0.125},{"id":"C1e","r":8155,"es":0.112},{"id":"C1e","r":8159,"es":0.14},{"id":"C1e","r":8655,"es":0.1},{"id":"C1e","r":8659,"es":0.115},{"id":"C1e","r":8822,"es":0.102},{"id":"C1e","r":8826,"es":0.13},{"id":"C1e","r":9076,"es":0.11},{"id":"C1e","r":9080,"es":0.125},{"id":"C1e","r":9467,"es":0.095},{"id":"C1e","r":9471,"es":0.11},{"id":"C1e","r":9523,"es":0.106},{"id":"C1e","r":9527,"es":0.12},{"id":"C1e","r":9579,"es":0.116},{"id":"C1e","r":9583,"es":0.13},{"id":"C1e","r":9635,"es":0.126},{"id":"C1e","r":9639,"es":0.145},{"id":"C1e","r":10306,"es":0.09},{"id":"C1e","r":10310,"es":0.13},{"id":"C1e","r":11700,"es":0},
{"id":"C2a","r":0,"es":0},{"id":"C2a","r":298,"es":-0.01},{"id":"C2a","r":302,"es":0.13},{"id":"C2a","r":795,"es":0.105},{"id":"C2a","r":799,"es":0.26},{"id":"C2a","r":1546,"es":0.215},{"id":"C2a","r":1550,"es":0.24},{"id":"C2a","r":1627,"es":0.235},{"id":"C2a","r":1631,"es":0.265},{"id":"C2a","r":1708,"es":0.26},{"id":"C2a","r":1712,"es":0.29},{"id":"C2a","r":1835,"es":0.28},{"id":"C2a","r":1839,"es":0.3},{"id":"C2a","r":2436,"es":0.265},{"id":"C2a","r":2440,"es":0.29},{"id":"C2a","r":2725,"es":0.275},{"id":"C2a","r":2729,"es":0.335},{"id":"C2a","r":3106,"es":0.31},{"id":"C2a","r":3110,"es":0.335},{"id":"C2a","r":5175,"es":0.165},{"id":"C2a","r":5179,"es":0.18},{"id":"C2a","r":5672,"es":0.14},{"id":"C2a","r":5676,"es":0.15},{"id":"C2a","r":5811,"es":0.14},{"id":"C2a","r":5815,"es":0.15},{"id":"C2a","r":6134,"es":0.125},{"id":"C2a","r":6138,"es":0.13},{"id":"C2a","r":6308,"es":0.12},{"id":"C2a","r":6312,"es":0.13},{"id":"C2a","r":6689,"es":0.1},{"id":"C2a","r":6693,"es":0.11},{"id":"C2a","r":6966,"es":0.09},{"id":"C2a","r":6970,"es":0.1},{"id":"C2a","r":7463,"es":0.06},{"id":"C2a","r":7467,"es":0.07},{"id":"C2a","r":7844,"es":0.03},{"id":"C2a","r":7848,"es":0.04},{"id":"C2a","r":7925,"es":0.035},{"id":"C2a","r":7929,"es":0.045},{"id":"C2a","r":8017,"es":0.04},{"id":"C2a","r":8021,"es":0.05},{"id":"C2a","r":8098,"es":0.045},{"id":"C2a","r":8102,"es":0.055},{"id":"C2a","r":8191,"es":0.05},{"id":"C2a","r":8195,"es":0.06},{"id":"C2a","r":8272,"es":0.055},{"id":"C2a","r":8276,"es":0.065},{"id":"C2a","r":8503,"es":0.05},{"id":"C2a","r":8507,"es":0.075},{"id":"C2a","r":8653,"es":0.065},{"id":"C2a","r":8657,"es":0.085},{"id":"C2a","r":8965,"es":0.06},{"id":"C2a","r":8969,"es":0.09},{"id":"C2a","r":9139,"es":0.08},{"id":"C2a","r":9143,"es":0.13},{"id":"C2a","r":9220,"es":0.125},{"id":"C2a","r":9224,"es":0.15},{"id":"C2a","r":9313,"es":0.145},{"id":"C2a","r":9317,"es":0.175},{"id":"C2a","r":9578,"es":0.16},{"id":"C2a","r":9582,"es":0.195},{"id":"C2a","r":11700,"es":0.02},
{"id":"C2b","r":0,"es":0},{"id":"C2b","r":4863,"es":-0.41},{"id":"C2b","r":4867,"es":-0.38},{"id":"C2b","r":4921,"es":-0.385},{"id":"C2b","r":4925,"es":-0.36},{"id":"C2b","r":4979,"es":-0.365},{"id":"C2b","r":4983,"es":-0.355},{"id":"C2b","r":6885,"es":-0.52},{"id":"C2b","r":6889,"es":-0.5},{"id":"C2b","r":7752,"es":-0.57},{"id":"C2b","r":7756,"es":-0.545},{"id":"C2b","r":8006,"es":-0.565},{"id":"C2b","r":8010,"es":-0.515},{"id":"C2b","r":10988,"es":-0.72},{"id":"C2b","r":10992,"es":-0.665},{"id":"C2b","r":11566,"es":-0.705},{"id":"C2b","r":11570,"es":0.003},{"id":"C2b","r":11700,"es":0},
{"id":"C2c","r":0,"es":0},{"id":"C2c","r":587,"es":-0.05},{"id":"C2c","r":591,"es":0.28},{"id":"C2c","r":703,"es":0.27},{"id":"C2c","r":707,"es":0.44},{"id":"C2c","r":1107,"es":0.41},{"id":"C2c","r":1111,"es":0.45},{"id":"C2c","r":1188,"es":0.445},{"id":"C2c","r":1192,"es":0.48},{"id":"C2c","r":1281,"es":0.475},{"id":"C2c","r":1285,"es":0.49},{"id":"C2c","r":1419,"es":0.48},{"id":"C2c","r":1423,"es":0.53},{"id":"C2c","r":1489,"es":0.525},{"id":"C2c","r":1493,"es":0.54},{"id":"C2c","r":2147,"es":0.49},{"id":"C2c","r":2151,"es":0.52},{"id":"C2c","r":2205,"es":0.515},{"id":"C2c","r":2209,"es":0.54},{"id":"C2c","r":2841,"es":0.48},{"id":"C2c","r":2845,"es":0.51},{"id":"C2c","r":3569,"es":0.46},{"id":"C2c","r":3573,"es":0.49},{"id":"C2c","r":3650,"es":0.485},{"id":"C2c","r":3654,"es":0.54},{"id":"C2c","r":4436,"es":0.48},{"id":"C2c","r":4440,"es":0.49},{"id":"C2c","r":5267,"es":0.42},{"id":"C2c","r":5271,"es":0.425},{"id":"C2c","r":8214,"es":0.185},{"id":"C2c","r":8218,"es":0.195},{"id":"C2c","r":9971,"es":0.045},{"id":"C2c","r":9975,"es":0.13},{"id":"C2c","r":11103,"es":0.03},{"id":"C2c","r":11107,"es":0.05},{"id":"C2c","r":11700,"es":0},
{"id":"C2d","r":0,"es":0},{"id":"C2d","r":5903,"es":-0.48},{"id":"C2d","r":5907,"es":-0.46},{"id":"C2d","r":6134,"es":-0.48},{"id":"C2d","r":6138,"es":-0.46},{"id":"C2d","r":6712,"es":-0.51},{"id":"C2d","r":6716,"es":-0.365},{"id":"C2d","r":7694,"es":-0.44},{"id":"C2d","r":7698,"es":-0.225},{"id":"C2d","r":9023,"es":-0.34},{"id":"C2d","r":9027,"es":0.01},{"id":"C2d","r":9889,"es":-0.055},{"id":"C2d","r":9893,"es":0.16},{"id":"C2d","r":11700,"es":0.01},
{"id":"C2e","r":0,"es":0},{"id":"C2e","r":379,"es":-0.012},{"id":"C2e","r":383,"es":0.21},{"id":"C2e","r":530,"es":0.205},{"id":"C2e","r":534,"es":0.44},{"id":"C2e","r":1396,"es":0.37},{"id":"C2e","r":1400,"es":0.48},{"id":"C2e","r":1454,"es":0.475},{"id":"C2e","r":1458,"es":0.54},{"id":"C2e","r":1512,"es":0.535},{"id":"C2e","r":1516,"es":0.555},{"id":"C2e","r":1720,"es":0.54},{"id":"C2e","r":1724,"es":0.555},{"id":"C2e","r":2263,"es":0.51},{"id":"C2e","r":2267,"es":0.535},{"id":"C2e","r":2575,"es":0.51},{"id":"C2e","r":2579,"es":0.655},{"id":"C2e","r":4077,"es":0.53},{"id":"C2e","r":4081,"es":0.595},{"id":"C2e","r":4401,"es":0.57},{"id":"C2e","r":4405,"es":0.615},{"id":"C2e","r":5845,"es":0.495},{"id":"C2e","r":5849,"es":0.505},{"id":"C2e","r":8214,"es":0.3},{"id":"C2e","r":8218,"es":0.31},{"id":"C2e","r":8965,"es":0.245},{"id":"C2e","r":8969,"es":0.255},{"id":"C2e","r":11700,"es":0.02}
],
"ticks":[
{"id":"B1c","r":216},{"id":"B1c","r":272},{"id":"B1c","r":328},{"id":"B1c","r":384},{"id":"B1c","r":473},{"id":"B1c","r":551},{"id":"B1c","r":718},{"id":"B1c","r":1031},{"id":"B1c","r":1388},{"id":"B1c","r":1700},{"id":"B1c","r":2035},{"id":"B1c","r":2648},{"id":"B1c","r":2727},{"id":"B1c","r":2894},{"id":"B1c","r":2950},{"id":"B1c","r":3396},{"id":"B1c","r":3485},{"id":"B1c","r":3674},{"id":"B1c","r":4009},{"id":"B1c","r":4455},{"id":"B1c","r":4511},{"id":"B1c","r":4623},{"id":"B1c","r":5214},{"id":"B1c","r":5850},{"id":"B1c","r":6631},{"id":"B1c","r":6720},{"id":"B1c","r":7021},{"id":"B1c","r":7802},{"id":"B1c","r":7969},{"id":"B1c","r":8081},{"id":"B1c","r":8248},{"id":"B1c","r":8750},{"id":"B1c","r":10150},
{"id":"B1a","r":328},{"id":"B1a","r":551},{"id":"B1a","r":2035},{"id":"B1a","r":2648},{"id":"B1a","r":2727},{"id":"B1a","r":2950},{"id":"B1a","r":3396},{"id":"B1a","r":3485},{"id":"B1a","r":4455},{"id":"B1a","r":4623},{"id":"B1a","r":5236},{"id":"B1a","r":5850},{"id":"B1a","r":6631},{"id":"B1a","r":7054},{"id":"B1a","r":8728},
{"id":"B1e","r":328},{"id":"B1e","r":384},{"id":"B1e","r":440},{"id":"B1e","r":496},{"id":"B1e","r":1366},{"id":"B1e","r":1611},{"id":"B1e","r":1890},{"id":"B1e","r":2002},{"id":"B1e","r":2225},{"id":"B1e","r":2448},{"id":"B1e","r":2816},{"id":"B1e","r":2894},{"id":"B1e","r":3117},{"id":"B1e","r":3229},{"id":"B1e","r":3674},{"id":"B1e","r":4098},{"id":"B1e","r":4377},{"id":"B1e","r":4455},{"id":"B1e","r":4511},{"id":"B1e","r":4623},{"id":"B1e","r":4757},{"id":"B1e","r":4980},{"id":"B1e","r":5159},{"id":"B1e","r":6464},{"id":"B1e","r":7054},{"id":"B1e","r":7133},
{"id":"B1d","r":3420},{"id":"B1d","r":3480},{"id":"B1d","r":5690},{"id":"B1d","r":5760},{"id":"B1d","r":6930},{"id":"B1d","r":6990},{"id":"B1d","r":8260},{"id":"B1d","r":8340},{"id":"B1d","r":10440},{"id":"B1d","r":10480},{"id":"B1d","r":10540},{"id":"B1d","r":10890},{"id":"B1d","r":10960},{"id":"B1d","r":11000},{"id":"B1d","r":11100},{"id":"B1d","r":11160},{"id":"B1d","r":11220},
{"id":"B1b","r":105},{"id":"B1b","r":183},{"id":"B1b","r":272},{"id":"B1b","r":350},{"id":"B1b","r":629},{"id":"B1b","r":808},{"id":"B1b","r":1778},{"id":"B1b","r":1834},{"id":"B1b","r":2113},{"id":"B1b","r":2169},{"id":"B1b","r":3563},{"id":"B1b","r":3674},{"id":"B1b","r":4176},{"id":"B1b","r":4511},{"id":"B1b","r":5013},{"id":"B1b","r":5772},{"id":"B1b","r":6932},{"id":"B1b","r":7390},{"id":"B1b","r":9084},
{"id":"B2d","r":101},{"id":"B2d","r":179},{"id":"B2d","r":235},{"id":"B2d","r":290},{"id":"B2d","r":546},{"id":"B2d","r":957},{"id":"B2d","r":1768},{"id":"B2d","r":1990},{"id":"B2d","r":2546},{"id":"B2d","r":2702},{"id":"B2d","r":2880},{"id":"B2d","r":3546},{"id":"B2d","r":3735},{"id":"B2d","r":4158},{"id":"B2d","r":4402},{"id":"B2d","r":4480},{"id":"B2d","r":4702},{"id":"B2d","r":5069},{"id":"B2d","r":6625},{"id":"B2d","r":8925},
{"id":"B2c","r":146},{"id":"B2c","r":590},{"id":"B2c","r":846},{"id":"B2c","r":924},{"id":"B2c","r":1013},{"id":"B2c","r":1146},{"id":"B2c","r":1513},{"id":"B2c","r":1568},{"id":"B2c","r":1624},{"id":"B2c","r":1680},{"id":"B2c","r":1735},{"id":"B2c","r":1880},{"id":"B2c","r":2235},{"id":"B2c","r":2291},{"id":"B2c","r":2346},{"id":"B2c","r":2402},{"id":"B2c","r":2457},{"id":"B2c","r":2546},{"id":"B2c","r":2657},{"id":"B2c","r":2735},{"id":"B2c","r":2813},{"id":"B2c","r":2880},{"id":"B2c","r":3013},{"id":"B2c","r":3124},{"id":"B2c","r":3324},{"id":"B2c","r":3402},{"id":"B2c","r":3480},{"id":"B2c","r":3569},{"id":"B2c","r":3624},{"id":"B2c","r":3735},{"id":"B2c","r":3847},{"id":"B2c","r":3924},{"id":"B2c","r":4035},{"id":"B2c","r":4147},{"id":"B2c","r":4269},{"id":"B2c","r":4369},{"id":"B2c","r":4547},{"id":"B2c","r":4925},{"id":"B2c","r":5013},{"id":"B2c","r":5102},{"id":"B2c","r":5180},{"id":"B2c","r":5291},{"id":"B2c","r":6714},{"id":"B2c","r":7369},{"id":"B2c","r":7569},{"id":"B2c","r":9047},{"id":"B2c","r":9237},{"id":"B2c","r":9437},{"id":"B2c","r":9814},
{"id":"B2a","r":846},{"id":"B2a","r":957},{"id":"B2a","r":1990},{"id":"B2a","r":2324},{"id":"B2a","r":3013},{"id":"B2a","r":3124},{"id":"B2a","r":3235},{"id":"B2a","r":5291},{"id":"B2a","r":5346},{"id":"B2a","r":7903},{"id":"B2a","r":8158},
{"id":"B2b","r":1257},{"id":"B2b","r":1402},{"id":"B2b","r":2035},{"id":"B2b","r":2402},{"id":"B2b","r":2702},{"id":"B2b","r":2769},{"id":"B2b","r":3013},{"id":"B2b","r":3091},{"id":"B2b","r":3124},{"id":"B2b","r":3402},{"id":"B2b","r":3458},{"id":"B2b","r":3513},{"id":"B2b","r":3546},{"id":"B2b","r":3624},{"id":"B2b","r":4035},{"id":"B2b","r":4991},{"id":"B2b","r":6402},
{"id":"B2e","r":5291},{"id":"B2e","r":5458},{"id":"B2e","r":5547},{"id":"B2e","r":5625},{"id":"B2e","r":5769},{"id":"B2e","r":6125},{"id":"B2e","r":7880},{"id":"B2e","r":10147},{"id":"B2e","r":10547},{"id":"B2e","r":10592},{"id":"B2e","r":10636},
{"id":"C1e","r":771},{"id":"C1e","r":849},{"id":"C1e","r":916},{"id":"C1e","r":993},{"id":"C1e","r":1027},{"id":"C1e","r":1071},{"id":"C1e","r":1182},{"id":"C1e","r":1437},{"id":"C1e","r":1804},{"id":"C1e","r":2071},{"id":"C1e","r":2471},{"id":"C1e","r":2549},{"id":"C1e","r":2627},{"id":"C1e","r":2805},{"id":"C1e","r":2883},{"id":"C1e","r":2959},{"id":"C1e","r":3137},{"id":"C1e","r":3215},{"id":"C1e","r":3659},{"id":"C1e","r":4270},{"id":"C1e","r":4770},{"id":"C1e","r":4826},{"id":"C1e","r":5470},{"id":"C1e","r":5526},{"id":"C1e","r":5915},{"id":"C1e","r":6026},{"id":"C1e","r":6581},{"id":"C1e","r":6659},{"id":"C1e","r":7048},{"id":"C1e","r":7270},{"id":"C1e","r":7992},{"id":"C1e","r":8159},{"id":"C1e","r":8659},{"id":"C1e","r":8826},{"id":"C1e","r":9080},{"id":"C1e","r":9471},{"id":"C1e","r":9527},{"id":"C1e","r":9583},{"id":"C1e","r":9639},{"id":"C1e","r":10310},
{"id":"C1c","r":5},{"id":"C1c","r":3882},{"id":"C1c","r":4548},{"id":"C1c","r":4659},{"id":"C1c","r":4770},{"id":"C1c","r":5026},{"id":"C1c","r":5359},{"id":"C1c","r":6359},{"id":"C1c","r":6803},{"id":"C1c","r":6881},{"id":"C1c","r":7715},{"id":"C1c","r":8381},{"id":"C1c","r":8968},{"id":"C1c","r":9415},{"id":"C1c","r":9862},{"id":"C1c","r":10947},{"id":"C1c","r":10992},
{"id":"C1d","r":27},{"id":"C1d","r":104},{"id":"C1d","r":438},{"id":"C1d","r":960},{"id":"C1d","r":5881},{"id":"C1d","r":6404},{"id":"C1d","r":6470},{"id":"C1d","r":6548},{"id":"C1d","r":7070},{"id":"C1d","r":7159},{"id":"C1d","r":7270},{"id":"C1d","r":7381},{"id":"C1d","r":7492},{"id":"C1d","r":7604},{"id":"C1d","r":7737},{"id":"C1d","r":7881},{"id":"C1d","r":7992},{"id":"C1d","r":8159},{"id":"C1d","r":8381},{"id":"C1d","r":8715},{"id":"C1d","r":8826},{"id":"C1d","r":8968},{"id":"C1d","r":9527},{"id":"C1d","r":10030},{"id":"C1d","r":10310},{"id":"C1d","r":10365},{"id":"C1d","r":10421},{"id":"C1d","r":10477},{"id":"C1d","r":11148},
{"id":"C1a","r":771},{"id":"C1a","r":849},{"id":"C1a","r":916},{"id":"C1a","r":1027},{"id":"C1a","r":1182},{"id":"C1a","r":1437},{"id":"C1a","r":1804},{"id":"C1a","r":2071},{"id":"C1a","r":2471},{"id":"C1a","r":2549},{"id":"C1a","r":2627},{"id":"C1a","r":2805},{"id":"C1a","r":2883},{"id":"C1a","r":2959},{"id":"C1a","r":3137},{"id":"C1a","r":3215},{"id":"C1a","r":4770},{"id":"C1a","r":4826},{"id":"C1a","r":5470},{"id":"C1a","r":5915},{"id":"C1a","r":5993},{"id":"C1a","r":6581},{"id":"C1a","r":6659},{"id":"C1a","r":7048},{"id":"C1a","r":7270},{"id":"C1a","r":7992},{"id":"C1a","r":8159},{"id":"C1a","r":8659},{"id":"C1a","r":8826},{"id":"C1a","r":10310},
{"id":"C1b","r":771},{"id":"C1b","r":849},{"id":"C1b","r":916},{"id":"C1b","r":1027},{"id":"C1b","r":1182},{"id":"C1b","r":1437},{"id":"C1b","r":1804},{"id":"C1b","r":2071},{"id":"C1b","r":2471},{"id":"C1b","r":2549},{"id":"C1b","r":2627},{"id":"C1b","r":2805},{"id":"C1b","r":2883},{"id":"C1b","r":2959},{"id":"C1b","r":3137},{"id":"C1b","r":3215},{"id":"C1b","r":4770},{"id":"C1b","r":4826},{"id":"C1b","r":5470},{"id":"C1b","r":5915},{"id":"C1b","r":5993},{"id":"C1b","r":6581},{"id":"C1b","r":6659},{"id":"C1b","r":7048},{"id":"C1b","r":7270},{"id":"C1b","r":7992},{"id":"C1b","r":8159},{"id":"C1b","r":8659},{"id":"C1b","r":8826},{"id":"C1b","r":10310},
{"id":"C2a","r":302},{"id":"C2a","r":799},{"id":"C2a","r":1550},{"id":"C2a","r":1631},{"id":"C2a","r":1712},{"id":"C2a","r":1839},{"id":"C2a","r":2440},{"id":"C2a","r":2729},{"id":"C2a","r":3110},{"id":"C2a","r":5179},{"id":"C2a","r":5676},{"id":"C2a","r":5815},{"id":"C2a","r":6138},{"id":"C2a","r":6196},{"id":"C2a","r":6254},{"id":"C2a","r":6312},{"id":"C2a","r":6693},{"id":"C2a","r":6970},{"id":"C2a","r":7467},{"id":"C2a","r":7848},{"id":"C2a","r":7929},{"id":"C2a","r":8021},{"id":"C2a","r":8102},{"id":"C2a","r":8195},{"id":"C2a","r":8276},{"id":"C2a","r":8507},{"id":"C2a","r":8657},{"id":"C2a","r":8969},{"id":"C2a","r":9143},{"id":"C2a","r":9224},{"id":"C2a","r":9317},{"id":"C2a","r":9582},
{"id":"C2d","r":5907},{"id":"C2d","r":6138},{"id":"C2d","r":6716},{"id":"C2d","r":7698},{"id":"C2d","r":9027},{"id":"C2d","r":9893},
{"id":"C2b","r":4867},{"id":"C2b","r":4925},{"id":"C2b","r":4983},{"id":"C2b","r":6889},{"id":"C2b","r":7756},{"id":"C2b","r":8010},{"id":"C2b","r":10992},{"id":"C2b","r":11570},
{"id":"C2c","r":534},{"id":"C2c","r":591},{"id":"C2c","r":707},{"id":"C2c","r":1111},{"id":"C2c","r":1192},{"id":"C2c","r":1285},{"id":"C2c","r":1423},{"id":"C2c","r":1493},{"id":"C2c","r":2151},{"id":"C2c","r":2209},{"id":"C2c","r":2845},{"id":"C2c","r":3573},{"id":"C2c","r":3654},{"id":"C2c","r":4440},{"id":"C2c","r":5271},{"id":"C2c","r":8218},{"id":"C2c","r":9975},{"id":"C2c","r":11107},
{"id":"C2e","r":383},{"id":"C2e","r":534},{"id":"C2e","r":1400},{"id":"C2e","r":1458},{"id":"C2e","r":1516},{"id":"C2e","r":1724},{"id":"C2e","r":2267},{"id":"C2e","r":2579},{"id":"C2e","r":4081},{"id":"C2e","r":4405},{"id":"C2e","r":5849},{"id":"C2e","r":8218},{"id":"C2e","r":8969}
],
"nodes":[
{"x":441,"y":115,"v":2},{"x":479,"y":120,"v":3},{"x":510,"y":145,"v":2},{"x":566,"y":147,"v":2},{"x":402,"y":165,"v":2},{"x":431,"y":154,"v":3},{"x":427,"y":165,"v":2},{"x":457,"y":164,"v":13},{"x":496,"y":168,"v":5},{"x":417,"y":177,"v":6},{"x":435,"y":180,"v":8},{"x":453,"y":176,"v":10},{"x":527,"y":181,"v":6},{"x":561,"y":186,"v":4},{"x":406,"y":189,"v":6},{"x":435,"y":191,"v":7},{"x":469,"y":191,"v":3},{"x":389,"y":195,"v":2},{"x":416,"y":202,"v":8},{"x":440,"y":202,"v":5},{"x":463,"y":202,"v":3},{"x":519,"y":197,"v":6},{"x":506,"y":208,"v":28},{"x":567,"y":209,"v":3},{"x":405,"y":213,"v":3},{"x":421,"y":218,"v":12},{"x":439,"y":217,"v":1},{"x":453,"y":217,"v":12},{"x":468,"y":219,"v":2},{"x":537,"y":219,"v":17},{"x":384,"y":230,"v":5},{"x":401,"y":230,"v":3},{"x":419,"y":232,"v":10},{"x":435,"y":230,"v":6},{"x":456,"y":229,"v":11},{"x":477,"y":230,"v":9},{"x":523,"y":233,"v":8},{"x":363,"y":251,"v":3},{"x":414,"y":244,"v":2},{"x":451,"y":242,"v":2},{"x":426,"y":255,"v":2},{"x":450,"y":255,"v":2},{"x":503,"y":249,"v":9},{"x":496,"y":286,"v":3},{"x":512,"y":284,"v":3},{"x":542,"y":313,"v":4},{"x":511,"y":332,"v":3},
{"x":167,"y":372,"v":3},{"x":201,"y":365,"v":3},{"x":228,"y":370,"v":14},{"x":201,"y":378,"v":18},{"x":226,"y":385,"v":11},{"x":247,"y":393,"v":8},{"x":145,"y":402,"v":4},{"x":189,"y":396,"v":6},{"x":207,"y":401,"v":4},{"x":223,"y":402,"v":4},{"x":120,"y":414,"v":2},{"x":187,"y":407,"v":6},{"x":244,"y":411,"v":4},{"x":201,"y":426,"v":7},{"x":217,"y":431,"v":3},{"x":237,"y":425,"v":3},{"x":260,"y":450,"v":4},
{"x":704,"y":323,"v":3},{"x":727,"y":318,"v":5},{"x":721,"y":342,"v":6},
{"x":573,"y":443,"v":4},{"x":607,"y":443,"v":3},{"x":630,"y":449,"v":4},{"x":559,"y":461,"v":7},{"x":600,"y":472,"v":8},{"x":601,"y":483,"v":2},{"x":646,"y":479,"v":3},
{"x":764,"y":477,"v":3},{"x":764,"y":498,"v":2},
{"x":427,"y":520,"v":8},{"x":427,"y":544,"v":1},
{"x":251,"y":564,"v":5},{"x":208,"y":577,"v":5},{"x":242,"y":603,"v":3},{"x":278,"y":604,"v":4},{"x":241,"y":614,"v":2},{"x":209,"y":625,"v":4},{"x":257,"y":657,"v":8},
{"x":567,"y":580,"v":2},{"x":590,"y":575,"v":3},{"x":583,"y":598,"v":4},
{"x":712,"y":618,"v":7},{"x":732,"y":622,"v":4},{"x":708,"y":637,"v":6},{"x":727,"y":642,"v":5},
{"x":397,"y":682,"v":4},{"x":397,"y":703,"v":5},
{"x":571,"y":690,"v":3},{"x":556,"y":704,"v":4},{"x":584,"y":705,"v":4},{"x":570,"y":718,"v":3}
],
"edges":[
{"x":402,"y":165,"x2":427,"y2":165,"w":0.1},{"x":402,"y":165,"x2":417,"y2":177,"w":0.1},{"x":402,"y":165,"x2":406,"y2":189,"w":0.1},{"x":431,"y":154,"x2":427,"y2":165,"w":0.1},{"x":431,"y":154,"x2":457,"y2":164,"w":0.1},{"x":431,"y":154,"x2":435,"y2":180,"w":0.1},{"x":427,"y":165,"x2":417,"y2":177,"w":0.1},{"x":427,"y":165,"x2":435,"y2":180,"w":0.1},{"x":427,"y":165,"x2":435,"y2":191,"w":0.1},{"x":457,"y":164,"x2":453,"y2":176,"w":0.1},{"x":457,"y":164,"x2":469,"y2":191,"w":0.1},{"x":457,"y":164,"x2":435,"y2":180,"w":0.1},{"x":417,"y":177,"x2":435,"y2":180,"w":0.1},{"x":417,"y":177,"x2":406,"y2":189,"w":0.1},{"x":417,"y":177,"x2":416,"y2":202,"w":0.1},{"x":435,"y":180,"x2":453,"y2":176,"w":0.1},{"x":435,"y":180,"x2":435,"y2":191,"w":0.1},{"x":435,"y":180,"x2":440,"y2":202,"w":0.1},{"x":453,"y":176,"x2":469,"y2":191,"w":0.1},{"x":453,"y":176,"x2":463,"y2":202,"w":0.1},{"x":453,"y":176,"x2":435,"y2":191,"w":0.1},{"x":406,"y":189,"x2":435,"y2":191,"w":0.1},{"x":406,"y":189,"x2":416,"y2":202,"w":0.1},{"x":406,"y":189,"x2":405,"y2":213,"w":0.1},{"x":435,"y":191,"x2":440,"y2":202,"w":0.1},{"x":435,"y":191,"x2":421,"y2":218,"w":0.1},{"x":435,"y":191,"x2":439,"y2":217,"w":0.1},{"x":469,"y":191,"x2":463,"y2":202,"w":0.1},{"x":469,"y":191,"x2":468,"y2":219,"w":0.1},{"x":389,"y":195,"x2":406,"y2":189,"w":0.1},{"x":389,"y":195,"x2":405,"y2":213,"w":0.1},{"x":389,"y":195,"x2":384,"y2":230,"w":0.1},{"x":416,"y":202,"x2":440,"y2":202,"w":0.1},{"x":416,"y":202,"x2":421,"y2":218,"w":0.1},{"x":416,"y":202,"x2":419,"y2":232,"w":0.1},{"x":440,"y":202,"x2":463,"y2":202,"w":0.1},{"x":440,"y":202,"x2":439,"y2":217,"w":0.1},{"x":440,"y":202,"x2":453,"y2":217,"w":0.1},{"x":463,"y":202,"x2":453,"y2":217,"w":0.1},{"x":463,"y":202,"x2":468,"y2":219,"w":0.1},{"x":405,"y":213,"x2":421,"y2":218,"w":0.1},{"x":405,"y":213,"x2":401,"y2":230,"w":0.1},{"x":421,"y":218,"x2":439,"y2":217,"w":0.1},{"x":421,"y":218,"x2":419,"y2":232,"w":0.1},{"x":421,"y":218,"x2":435,"y2":230,"w":0.1},{"x":439,"y":217,"x2":453,"y2":217,"w":0.1},{"x":439,"y":217,"x2":435,"y2":230,"w":0.1},{"x":439,"y":217,"x2":456,"y2":229,"w":0.1},{"x":453,"y":217,"x2":468,"y2":219,"w":0.1},{"x":453,"y":217,"x2":456,"y2":229,"w":0.1},{"x":468,"y":219,"x2":477,"y2":230,"w":0.1},{"x":384,"y":230,"x2":401,"y2":230,"w":0.1},{"x":401,"y":230,"x2":419,"y2":232,"w":0.1},{"x":419,"y":232,"x2":435,"y2":230,"w":0.1},{"x":419,"y":232,"x2":414,"y2":244,"w":0.1},{"x":435,"y":230,"x2":456,"y2":229,"w":0.1},{"x":435,"y":230,"x2":451,"y2":242,"w":0.1},{"x":456,"y":229,"x2":477,"y2":230,"w":0.1},{"x":456,"y":229,"x2":451,"y2":242,"w":0.1},{"x":477,"y":230,"x2":451,"y2":242,"w":0.1},{"x":414,"y":244,"x2":426,"y2":255,"w":0.1},{"x":451,"y":242,"x2":450,"y2":255,"w":0.1},{"x":426,"y":255,"x2":450,"y2":255,"w":0.1},{"x":435,"y":230,"x2":426,"y2":255,"w":0.1},{"x":419,"y":232,"x2":426,"y2":255,"w":0.1},{"x":435,"y":191,"x2":435,"y2":230,"w":0.1},{"x":435,"y":180,"x2":439,"y2":217,"w":0.1},{"x":417,"y":177,"x2":421,"y2":218,"w":0.1},{"x":427,"y":165,"x2":440,"y2":202,"w":0.1},{"x":453,"y":176,"x2":453,"y2":217,"w":0.1},{"x":469,"y":191,"x2":456,"y2":229,"w":0.1},{"x":457,"y":164,"x2":463,"y2":202,"w":0.1},{"x":431,"y":154,"x2":453,"y2":176,"w":0.1},{"x":440,"y":202,"x2":456,"y2":229,"w":0.1},{"x":416,"y":202,"x2":435,"y2":230,"w":0.1},{"x":406,"y":189,"x2":419,"y2":232,"w":0.1},{"x":421,"y":218,"x2":414,"y2":244,"w":0.1},{"x":453,"y":217,"x2":451,"y2":242,"w":0.1},{"x":477,"y":230,"x2":450,"y2":255,"w":0.1},{"x":468,"y":219,"x2":451,"y2":242,"w":0.1},{"x":402,"y":165,"x2":389,"y2":195,"w":0.1},
{"x":441,"y":115,"x2":479,"y2":120,"w":0.1},{"x":441,"y":115,"x2":431,"y2":154,"w":0.1},{"x":479,"y":120,"x2":457,"y2":164,"w":0.2},{"x":510,"y":145,"x2":496,"y2":168,"w":0.3},{"x":566,"y":147,"x2":561,"y2":186,"w":0.1},{"x":566,"y":147,"x2":519,"y2":197,"w":0.1},{"x":496,"y":168,"x2":527,"y2":181,"w":0.1},{"x":496,"y":168,"x2":519,"y2":197,"w":0.1},{"x":527,"y":181,"x2":561,"y2":186,"w":0.1},{"x":527,"y":181,"x2":519,"y2":197,"w":0.1},{"x":561,"y":186,"x2":567,"y2":209,"w":0.1},{"x":519,"y":197,"x2":506,"y2":208,"w":0.2},{"x":519,"y":197,"x2":537,"y2":219,"w":0.3},{"x":506,"y":208,"x2":537,"y2":219,"w":0.2},{"x":567,"y":209,"x2":537,"y2":219,"w":0.1},{"x":506,"y":208,"x2":523,"y2":233,"w":0.2},{"x":537,"y":219,"x2":523,"y2":233,"w":0.2},{"x":567,"y":209,"x2":506,"y2":208,"w":0.1},{"x":527,"y":181,"x2":506,"y2":208,"w":0.1},{"x":477,"y":230,"x2":506,"y2":208,"w":0.2},{"x":468,"y":219,"x2":506,"y2":208,"w":0.1},{"x":463,"y":202,"x2":506,"y2":208,"w":0.1},{"x":477,"y":230,"x2":523,"y2":233,"w":0.2},{"x":463,"y":202,"x2":496,"y2":168,"w":0.1},{"x":469,"y":191,"x2":496,"y2":168,"w":0.1},{"x":477,"y":230,"x2":496,"y2":286,"w":0.1},{"x":477,"y":230,"x2":512,"y2":284,"w":0.1},{"x":496,"y":286,"x2":512,"y2":284,"w":0.2},{"x":496,"y":286,"x2":542,"y2":313,"w":0.1},{"x":512,"y":284,"x2":542,"y2":313,"w":0.1},{"x":542,"y":313,"x2":511,"y2":332,"w":0.3},{"x":496,"y":286,"x2":511,"y2":332,"w":0.1},{"x":503,"y":249,"x2":477,"y2":230,"w":0.1},{"x":503,"y":249,"x2":506,"y2":208,"w":0.1},{"x":456,"y":229,"x2":503,"y2":249,"w":0.1},{"x":469,"y":191,"x2":506,"y2":208,"w":0.1},{"x":537,"y":219,"x2":561,"y2":186,"w":0.1},{"x":519,"y":197,"x2":567,"y2":209,"w":0.1},{"x":363,"y":251,"x2":384,"y2":230,"w":0.1},{"x":363,"y":251,"x2":414,"y2":244,"w":0.1},
{"x":477,"y":230,"x2":573,"y2":443,"w":0.1},{"x":477,"y":230,"x2":559,"y2":461,"w":0.1},{"x":512,"y":284,"x2":573,"y2":443,"w":0.1},{"x":523,"y":233,"x2":559,"y2":461,"w":0.1},
{"x":363,"y":251,"x2":167,"y2":372,"w":0.05},{"x":363,"y":251,"x2":201,"y2":365,"w":0.05},{"x":363,"y":251,"x2":201,"y2":378,"w":0.05},{"x":384,"y":230,"x2":228,"y2":370,"w":0.05},{"x":384,"y":230,"x2":226,"y2":385,"w":0.05},{"x":401,"y":230,"x2":201,"y2":378,"w":0.05},{"x":401,"y":230,"x2":207,"y2":401,"w":0.05},{"x":414,"y":244,"x2":228,"y2":370,"w":0.05},{"x":414,"y":244,"x2":247,"y2":393,"w":0.05},{"x":426,"y":255,"x2":226,"y2":385,"w":0.05},{"x":426,"y":255,"x2":223,"y2":402,"w":0.05},{"x":450,"y":255,"x2":247,"y2":393,"w":0.05},{"x":450,"y":255,"x2":244,"y2":411,"w":0.05},{"x":451,"y":242,"x2":201,"y2":378,"w":0.05},{"x":419,"y":232,"x2":201,"y2":365,"w":0.05},{"x":405,"y":213,"x2":189,"y2":396,"w":0.05},{"x":389,"y":195,"x2":167,"y2":372,"w":0.05},{"x":435,"y":230,"x2":207,"y2":401,"w":0.05},{"x":456,"y":229,"x2":226,"y2":385,"w":0.05},{"x":426,"y":255,"x2":237,"y2":425,"w":0.05},{"x":414,"y":244,"x2":187,"y2":407,"w":0.05},{"x":401,"y":230,"x2":223,"y2":402,"w":0.05},{"x":363,"y":251,"x2":226,"y2":385,"w":0.05},{"x":384,"y":230,"x2":247,"y2":393,"w":0.05},{"x":450,"y":255,"x2":237,"y2":425,"w":0.05},{"x":451,"y":242,"x2":223,"y2":402,"w":0.05},{"x":477,"y":230,"x2":244,"y2":411,"w":0.05},{"x":468,"y":219,"x2":247,"y2":393,"w":0.05},{"x":419,"y":232,"x2":228,"y2":370,"w":0.05},{"x":405,"y":213,"x2":201,"y2":365,"w":0.05},{"x":389,"y":195,"x2":201,"y2":378,"w":0.05},{"x":450,"y":255,"x2":260,"y2":450,"w":0.05},{"x":451,"y":242,"x2":228,"y2":370,"w":0.05},{"x":456,"y":229,"x2":244,"y2":411,"w":0.05},
{"x":167,"y":372,"x2":201,"y2":365,"w":0.1},{"x":167,"y":372,"x2":201,"y2":378,"w":0.1},{"x":167,"y":372,"x2":145,"y2":402,"w":0.1},{"x":201,"y":365,"x2":228,"y2":370,"w":0.2},{"x":201,"y":365,"x2":201,"y2":378,"w":0.2},{"x":228,"y":370,"x2":201,"y2":378,"w":0.2},{"x":228,"y":370,"x2":226,"y2":385,"w":0.3},{"x":201,"y":378,"x2":226,"y2":385,"w":0.3},{"x":201,"y":378,"x2":189,"y2":396,"w":0.2},{"x":201,"y":378,"x2":207,"y2":401,"w":0.2},{"x":226,"y":385,"x2":247,"y2":393,"w":0.2},{"x":226,"y":385,"x2":207,"y2":401,"w":0.2},{"x":226,"y":385,"x2":223,"y2":402,"w":0.2},{"x":247,"y":393,"x2":244,"y2":411,"w":0.1},{"x":189,"y":396,"x2":207,"y2":401,"w":0.2},{"x":207,"y":401,"x2":223,"y2":402,"w":0.2},{"x":189,"y":396,"x2":187,"y2":407,"w":0.1},{"x":207,"y":401,"x2":187,"y2":407,"w":0.1},{"x":223,"y":402,"x2":244,"y2":411,"w":0.1},{"x":187,"y":407,"x2":201,"y2":426,"w":0.1},{"x":207,"y":401,"x2":201,"y2":426,"w":0.1},{"x":223,"y":402,"x2":217,"y2":431,"w":0.1},{"x":244,"y":411,"x2":237,"y2":425,"w":0.1},{"x":217,"y":431,"x2":237,"y2":425,"w":0.1},{"x":201,"y":426,"x2":217,"y2":431,"w":0.1},{"x":120,"y":414,"x2":145,"y2":402,"w":0.1},{"x":247,"y":393,"x2":260,"y2":450,"w":0.1},{"x":244,"y":411,"x2":260,"y2":450,"w":0.1},{"x":237,"y":425,"x2":260,"y2":450,"w":0.1},{"x":226,"y":385,"x2":244,"y2":411,"w":0.1},{"x":228,"y":370,"x2":247,"y2":393,"w":0.1},
{"x":704,"y":323,"x2":727,"y2":318,"w":0.5},{"x":704,"y":323,"x2":721,"y2":342,"w":0.2},{"x":727,"y":318,"x2":721,"y2":342,"w":0.6},
{"x":573,"y":443,"x2":607,"y2":443,"w":0.5},{"x":573,"y":443,"x2":559,"y2":461,"w":0.3},{"x":573,"y":443,"x2":600,"y2":472,"w":0.8},{"x":559,"y":461,"x2":600,"y2":472,"w":0.8},{"x":559,"y":461,"x2":601,"y2":483,"w":0.2},{"x":600,"y":472,"x2":601,"y2":483,"w":0.4},{"x":607,"y":443,"x2":600,"y2":472,"w":0.3},{"x":607,"y":443,"x2":630,"y2":449,"w":0.3},{"x":630,"y":449,"x2":600,"y2":472,"w":0.7},{"x":630,"y":449,"x2":646,"y2":479,"w":0.4},{"x":601,"y":483,"x2":646,"y2":479,"w":0.7},{"x":607,"y":443,"x2":601,"y2":483,"w":0.2},
{"x":764,"y":477,"x2":764,"y2":498,"w":0.3},
{"x":427,"y":520,"x2":427,"y2":544,"w":0.2},
{"x":251,"y":564,"x2":208,"y2":577,"w":0.9},{"x":208,"y":577,"x2":242,"y2":603,"w":0.4},{"x":208,"y":577,"x2":278,"y2":604,"w":0.3},{"x":251,"y":564,"x2":242,"y2":603,"w":0.6},{"x":251,"y":564,"x2":241,"y2":614,"w":0.4},{"x":251,"y":564,"x2":209,"y2":625,"w":0.3},{"x":208,"y":577,"x2":209,"y2":625,"w":0.3},{"x":242,"y":603,"x2":278,"y2":604,"w":1},{"x":241,"y":614,"x2":278,"y2":604,"w":0.8},{"x":209,"y":625,"x2":242,"y2":603,"w":0.7},{"x":209,"y":625,"x2":278,"y2":604,"w":1},{"x":209,"y":625,"x2":257,"y2":657,"w":0.4},{"x":278,"y":604,"x2":257,"y2":657,"w":0.4},{"x":241,"y":614,"x2":257,"y2":657,"w":0.6},{"x":242,"y":603,"x2":257,"y2":657,"w":0.3},
{"x":567,"y":580,"x2":590,"y2":575,"w":0.8},{"x":567,"y":580,"x2":583,"y2":598,"w":0.3},{"x":590,"y":575,"x2":583,"y2":598,"w":0.4},
{"x":712,"y":618,"x2":732,"y2":622,"w":0.3},{"x":712,"y":618,"x2":708,"y2":637,"w":0.3},{"x":732,"y":622,"x2":727,"y2":642,"w":0.3},{"x":708,"y":637,"x2":727,"y2":642,"w":0.3},{"x":712,"y":618,"x2":727,"y2":642,"w":0.4},{"x":732,"y":622,"x2":708,"y2":637,"w":0.4},
{"x":397,"y":682,"x2":397,"y2":703,"w":0.3},
{"x":571,"y":690,"x2":556,"y2":704,"w":0.4},{"x":571,"y":690,"x2":584,"y2":705,"w":0.4},{"x":556,"y":704,"x2":570,"y2":718,"w":0.4},{"x":584,"y":705,"x2":570,"y2":718,"w":0.4},{"x":571,"y":690,"x2":570,"y2":718,"w":0.8},{"x":556,"y":704,"x2":584,"y2":705,"w":0.8}
]
},
"concat":[
{
"width":963,"height":153,
"layer":[
{"data":{"values":[{"x":465,"y":223}]},"mark":{"type":"point","shape":"M0.94,0C0.94,0.552 0.519,1 0,1C-0.519,1 -0.94,0.552 -0.94,0C-0.94,-0.552 -0.519,-1 0,-1C0.519,-1 0.94,-0.552 0.94,0Z","size":90000,"filled":true,"fill":"#FEFEEF","stroke":"#333333","strokeWidth":2.5,"opacity":1},
 "encoding":{"x":{"field":"x","type":"quantitative","scale":{"domain":[0,963],"nice":false,"zero":false},"axis":null},"y":{"field":"y","type":"quantitative","scale":{"domain":[0,153],"reverse":true,"nice":false,"zero":false},"axis":null}}},
{"data":{"values":[{"x":197,"y":410}]},"mark":{"type":"point","shape":"M1,0C1,0.342 0.552,0.62 0,0.62C-0.552,0.62 -1,0.342 -1,0C-1,-0.342 -0.552,-0.62 0,-0.62C0.552,-0.62 1,-0.342 1,0Z","size":46656,"filled":true,"fill":"#FEFEEF","stroke":"#333333","strokeWidth":2.5,"opacity":1},
 "encoding":{"x":{"field":"x","type":"quantitative"},"y":{"field":"y","type":"quantitative"}}},
{"data":{"values":[{"x":716,"y":329}]},"mark":{"type":"point","shape":"circle","size":5184,"filled":true,"fill":"#FEFEEF","stroke":"#333333","strokeWidth":2.5,"opacity":1},
 "encoding":{"x":{"field":"x","type":"quantitative"},"y":{"field":"y","type":"quantitative"}}},
{"data":{"values":[{"x":602,"y":463}]},"mark":{"type":"point","shape":"M1,0C1,0.28 0.552,0.507 0,0.507C-0.552,0.507 -1,0.28 -1,0C-1,-0.28 -0.552,-0.507 0,-0.507C0.552,-0.507 1,-0.28 1,0Z","size":22500,"filled":true,"fill":"#FEFEEF","stroke":"#333333","strokeWidth":2.5,"opacity":1},
 "encoding":{"x":{"field":"x","type":"quantitative"},"y":{"field":"y","type":"quantitative"}}},
{"data":{"values":[{"x":764,"y":487}]},"mark":{"type":"point","shape":"M0.82,0C0.82,0.552 0.453,1 0,1C-0.453,1 -0.82,0.552 -0.82,0C-0.82,-0.552 -0.453,-1 0,-1C0.453,-1 0.82,-0.552 0.82,0Z","size":6084,"filled":true,"fill":"#FEFEEF","stroke":"#333333","strokeWidth":2.5,"opacity":1},
 "encoding":{"x":{"field":"x","type":"quantitative"},"y":{"field":"y","type":"quantitative"}}},
{"data":{"values":[{"x":428,"y":532}]},"mark":{"type":"point","shape":"M0.62,0C0.62,0.552 0.342,1 0,1C-0.342,1 -0.62,0.552 -0.62,0C-0.62,-0.552 -0.342,-1 0,-1C0.342,-1 0.62,-0.552 0.62,0Z","size":7056,"filled":true,"fill":"#FEFEEF","stroke":"#333333","strokeWidth":2.5,"opacity":1},
 "encoding":{"x":{"field":"x","type":"quantitative"},"y":{"field":"y","type":"quantitative"}}},
{"data":{"values":[{"x":244,"y":611}]},"mark":{"type":"point","shape":"M0.757,0C0.757,0.552 0.418,1 0,1C-0.418,1 -0.757,0.552 -0.757,0C-0.757,-0.552 -0.418,-1 0,-1C0.418,-1 0.757,-0.552 0.757,0Z","size":21904,"filled":true,"fill":"#FEFEEF","stroke":"#333333","strokeWidth":2.5,"opacity":1},
 "encoding":{"x":{"field":"x","type":"quantitative"},"y":{"field":"y","type":"quantitative"}}},
{"data":{"values":[{"x":579,"y":586}]},"mark":{"type":"point","shape":"circle","size":4900,"filled":true,"fill":"#FEFEEF","stroke":"#333333","strokeWidth":2.5,"opacity":1},
 "encoding":{"x":{"field":"x","type":"quantitative"},"y":{"field":"y","type":"quantitative"}}},
{"data":{"values":[{"x":720,"y":630}]},"mark":{"type":"point","shape":"circle","size":4356,"filled":true,"fill":"#FEFEEF","stroke":"#333333","strokeWidth":2.5,"opacity":1},
 "encoding":{"x":{"field":"x","type":"quantitative"},"y":{"field":"y","type":"quantitative"}}},
{"data":{"values":[{"x":398,"y":693}]},"mark":{"type":"point","shape":"M0.684,0C0.684,0.552 0.378,1 0,1C-0.378,1 -0.684,0.552 -0.684,0C-0.684,-0.552 -0.378,-1 0,-1C0.378,-1 0.684,-0.552 0.684,0Z","size":5776,"filled":true,"fill":"#FEFEEF","stroke":"#333333","strokeWidth":2.5,"opacity":1},
 "encoding":{"x":{"field":"x","type":"quantitative"},"y":{"field":"y","type":"quantitative"}}},
{"data":{"values":[{"x":570,"y":705}]},"mark":{"type":"point","shape":"circle","size":4356,"filled":true,"fill":"#FEFEEF","stroke":"#333333","strokeWidth":2.5,"opacity":1},
 "encoding":{"x":{"field":"x","type":"quantitative"},"y":{"field":"y","type":"quantitative"}}},
{"data":{"name":"edges"},"mark":{"type":"rule","color":"#9ECAE1","opacity":0.85},
 "encoding":{"x":{"field":"x","type":"quantitative"},"y":{"field":"y","type":"quantitative"},"x2":{"field":"x2"},"y2":{"field":"y2"},"strokeWidth":{"field":"w","type":"quantitative","scale":{"domain":[0,1],"range":[0.9,4.5]},"legend":null}}},
{"data":{"name":"nodes"},"mark":{"type":"point","shape":"circle","size":225,"filled":true,"stroke":"#999999","strokeWidth":0.9,"opacity":1},
 "encoding":{"x":{"field":"x","type":"quantitative"},"y":{"field":"y","type":"quantitative"},
 "fill":{"field":"v","type":"quantitative","scale":{"domain":[0,30],"range":["#F4F1F1","#E8906C"]},"legend":{"orient":"none","legendX":725,"legendY":712,"direction":"horizontal","gradientLength":92,"gradientThickness":15,"title":null,"values":[0,30],"format":".1f","labelFontSize":19,"labelAlign":"center","labelOffset":5,"gradientStrokeWidth":0,"labelColor":"#000000"}}}},
{"data":{"values":[{"t":"metabolic regulation","x":337,"y":52}]},"mark":{"type":"text","align":"left","baseline":"middle","fontSize":27,"color":"#000000"},
 "encoding":{"x":{"field":"x","type":"quantitative"},"y":{"field":"y","type":"quantitative"},"text":{"field":"t"}}},
{"data":{"values":[{"t":"tissue development system","x":1,"y":323},{"t":"neuron projection bounded","x":618,"y":273}]},"mark":{"type":"text","align":"left","baseline":"middle","fontSize":23.3,"color":"#000000"},
 "encoding":{"x":{"field":"x","type":"quantitative"},"y":{"field":"y","type":"quantitative"},"text":{"field":"t"}}},
{"data":{"values":[{"t":"monoatomic transmembrane transport","x":417,"y":403},{"t":"developmental growth","x":704,"y":434},{"t":"organelle organization cytoskeleton","x":233,"y":483},{"t":"extracellular space vesicle","x":132,"y":524},{"t":"monoatomic homeostasis homeostatic","x":476,"y":540},{"t":"microtubule center cytoskeleton","x":652,"y":581},{"t":"cell projection organization","x":311,"y":638},{"t":"chemical synaptic transmission","x":443,"y":665}]},"mark":{"type":"text","align":"left","baseline":"middle","fontSize":19.5,"color":"#000000"},
 "encoding":{"x":{"field":"x","type":"quantitative"},"y":{"field":"y","type":"quantitative"},"text":{"field":"t"}}},
{"data":{"values":[{"t":"A","x":0,"y":14},{"t":"B","x":959,"y":14},{"t":"C","x":961,"y":479}]},"mark":{"type":"text","align":"left","baseline":"middle","fontSize":25,"color":"#000000"},
 "encoding":{"x":{"field":"x","type":"quantitative"},"y":{"field":"y","type":"quantitative"},"text":{"field":"t"}}},
{"data":{"values":[{"t":"-log","x":691,"y":786},{"t":"(","x":743.5,"y":786},{"t":"value)","x":773,"y":786}]},"mark":{"type":"text","align":"left","baseline":"alphabetic","fontSize":23,"color":"#000000"},
 "encoding":{"x":{"field":"x","type":"quantitative"},"y":{"field":"y","type":"quantitative"},"text":{"field":"t"}}},
{"data":{"values":[{"t":"10","x":729,"y":791}]},"mark":{"type":"text","align":"left","baseline":"alphabetic","fontSize":13,"color":"#000000"},
 "encoding":{"x":{"field":"x","type":"quantitative"},"y":{"field":"y","type":"quantitative"},"text":{"field":"t"}}},
{"data":{"values":[{"t":"P","x":751,"y":786}]},"mark":{"type":"text","align":"left","baseline":"alphabetic","fontSize":23,"fontStyle":"italic","color":"#000000"},
 "encoding":{"x":{"field":"x","type":"quantitative"},"y":{"field":"y","type":"quantitative"},"text":{"field":"t"}}}
]
},
{"width":1,"height":153,"data":{"values":[{}]},"mark":{"type":"point","opacity":0}},
{"width":1,"height":153,"data":{"values":[{}]},"mark":{"type":"point","opacity":0}},
{"width":1,"height":1,"data":{"values":[{}]},"mark":{"type":"point","opacity":0}},
{"width":386,"height":245,
"layer":[
{"data":{"name":"curves"},"transform":[{"filter":{"field":"id","oneOf":["B1a","B1b","B1c","B1d","B1e"]}},{"lookup":"id","from":{"data":{"name":"terms"},"key":"id","fields":["name"]}}],
"mark":{"type":"line","strokeWidth":2.5},
"encoding":{"x":{"field":"r","type":"quantitative","scale":{"domain":[0,11250],"nice":false,"zero":false},"axis":{"values":[3000,6000,9000],"format":"d","title":null}},
"y":{"field":"es","type":"quantitative","scale":{"domain":[-1.404,0.556],"nice":false,"zero":false},"axis":{"values":[-0.5,0,0.5],"labelExpr":"replace(format(datum.value,'.1f'),'−','-')","title":"Running Enrichment Score","titlePadding":8}},
"color":{"field":"name","type":"nominal","scale":{"domain":["negative regulation of phosphatase activity","primary alcohol metabolic process","regulation of dephosphorylation","response to retinoic acid","single fertilization"],"range":["#F8766D","#A3A500","#00BF7D","#00B0F6","#E76BF3"]},"legend":{"orient":"none","legendX":5,"legendY":-125,"title":null,"symbolType":"stroke"}}}},
{"data":{"name":"ticks"},"transform":[{"filter":{"field":"id","oneOf":["B1a","B1b","B1c","B1d","B1e"]}},{"lookup":"id","from":{"data":{"name":"terms"},"key":"id","fields":["name"]}}],
"mark":{"type":"tick","thickness":2.7,"size":12.4},
"encoding":{"x":{"field":"r","type":"quantitative"},"y":{"field":"id","type":"nominal","scale":{"type":"band","domain":["B1c","B1a","B1e","B1d","B1b"],"range":[177,239],"paddingInner":0,"paddingOuter":0},"axis":null},"color":{"field":"name","type":"nominal"}}}
],
"resolve":{"scale":{"y":"independent"}}},
{"width":390,"height":245,
"layer":[
{"data":{"name":"curves"},"transform":[{"filter":{"field":"id","oneOf":["B2a","B2b","B2c","B2d","B2e"]}},{"lookup":"id","from":{"data":{"name":"terms"},"key":"id","fields":["name"]}}],
"mark":{"type":"line","strokeWidth":2.5},
"encoding":{"x":{"field":"r","type":"quantitative","scale":{"domain":[0,11250],"nice":false,"zero":false},"axis":{"values":[3000,6000,9000],"format":"d","title":null}},
"y":{"field":"es","type":"quantitative","scale":{"domain":[-1.33,0.694],"nice":false,"zero":false},"axis":{"values":[-0.8,-0.4,0,0.4],"labelExpr":"replace(format(datum.value,'.1f'),'−','-')","title":null}},
"color":{"field":"name","type":"nominal","scale":{"domain":["KEGG_glycine_serine_and_threonine_metabolism","KEGG_leukocyte_transendothelial_migration","KEGG_neuroactive_ligand_receptor_interaction","KEGG_steroid_hormone_biosynthesis","KEGG_vasopressin_regulated_water_reabsorption"],"range":["#F8766D","#A3A500","#00BF7D","#00B0F6","#E76BF3"]},"legend":{"orient":"none","legendX":-57,"legendY":-125,"title":null,"symbolType":"stroke"}}}},
{"data":{"name":"ticks"},"transform":[{"filter":{"field":"id","oneOf":["B2a","B2b","B2c","B2d","B2e"]}},{"lookup":"id","from":{"data":{"name":"terms"},"key":"id","fields":["name"]}}],
"mark":{"type":"tick","thickness":2.7,"size":12.4},
"encoding":{"x":{"field":"r","type":"quantitative"},"y":{"field":"id","type":"nominal","scale":{"type":"band","domain":["B2d","B2c","B2a","B2b","B2e"],"range":[178,241],"paddingInner":0,"paddingOuter":0},"axis":null},"color":{"field":"name","type":"nominal"}}}
],
"resolve":{"scale":{"y":"independent"}}},
{"width":1,"height":1,"data":{"values":[{}]},"mark":{"type":"point","opacity":0}},
{"width":1,"height":170,"data":{"values":[{}]},"mark":{"type":"point","opacity":0}},
{"width":1,"height":170,"data":{"values":[{}]},"mark":{"type":"point","opacity":0}},
{"width":1,"height":1,"data":{"values":[{}]},"mark":{"type":"point","opacity":0}},
{"width":403,"height":245,
"layer":[
{"data":{"name":"curves"},"transform":[{"filter":{"field":"id","oneOf":["C1a","C1b","C1c","C1d","C1e"]}},{"lookup":"id","from":{"data":{"name":"terms"},"key":"id","fields":["name"]}}],
"mark":{"type":"line","strokeWidth":2.5},
"encoding":{"x":{"field":"r","type":"quantitative","scale":{"domain":[0,11700],"nice":false,"zero":false},"axis":{"values":[3000,6000,9000],"format":"d","title":"Rank in Ordered Dataset","titlePadding":2}},
"y":{"field":"es","type":"quantitative","scale":{"domain":[-0.457,0.543],"nice":false,"zero":false},"axis":{"values":[0,0.2,0.4],"labelExpr":"replace(format(datum.value,'.1f'),'−','-')","title":"Running Enrichment Score","titlePadding":19}},
"color":{"field":"name","type":"nominal","scale":{"domain":["cellular response to hexose stimulus","cellular response to monosaccharide stimulus","O−glycan processing","positive regulation of innate immune response","response to hexose"],"range":["#F8766D","#A3A500","#00BF7D","#00B0F6","#E76BF3"]},"legend":{"orient":"none","legendX":5,"legendY":-110,"title":null,"symbolType":"stroke"}}}},
{"data":{"name":"ticks"},"transform":[{"filter":{"field":"id","oneOf":["C1a","C1b","C1c","C1d","C1e"]}},{"lookup":"id","from":{"data":{"name":"terms"},"key":"id","fields":["name"]}}],
"mark":{"type":"tick","thickness":2.7,"size":12.4},
"encoding":{"x":{"field":"r","type":"quantitative"},"y":{"field":"id","type":"nominal","scale":{"type":"band","domain":["C1e","C1c","C1d","C1a","C1b"],"range":[178,240],"paddingInner":0,"paddingOuter":0},"axis":null},"color":{"field":"name","type":"nominal"}}}
],
"resolve":{"scale":{"y":"independent"}}},
{"width":390,"height":245,
"layer":[
{"data":{"name":"curves"},"transform":[{"filter":{"field":"id","oneOf":["C2a","C2b","C2c","C2d","C2e"]}},{"lookup":"id","from":{"data":{"name":"terms"},"key":"id","fields":["name"]}}],
"mark":{"type":"line","strokeWidth":2.5},
"encoding":{"x":{"field":"r","type":"quantitative","scale":{"domain":[0,11700],"nice":false,"zero":false},"axis":{"values":[3000,6000,9000],"format":"d","title":"Rank in Ordered Dataset","titlePadding":2}},
"y":{"field":"es","type":"quantitative","scale":{"domain":[-1.408,0.708],"nice":false,"zero":false},"axis":{"values":[-0.8,-0.4,0,0.4],"labelExpr":"replace(format(datum.value,'.1f'),'−','-')","title":null}},
"color":{"field":"name","type":"nominal","scale":{"domain":["KEGG_complement_and_coagulation_cascades","KEGG_cysteine_and_methionine_metabolism","KEGG_jak_stat_signaling_pathway","KEGG_pentose_phosphate_pathway","KEGG_tgf_beta_signaling_pathway"],"range":["#F8766D","#A3A500","#00BF7D","#00B0F6","#E76BF3"]},"legend":{"orient":"none","legendX":-41,"legendY":-111,"title":null,"symbolType":"stroke"}}}},
{"data":{"name":"ticks"},"transform":[{"filter":{"field":"id","oneOf":["C2a","C2b","C2c","C2d","C2e"]}},{"lookup":"id","from":{"data":{"name":"terms"},"key":"id","fields":["name"]}}],
"mark":{"type":"tick","thickness":2.7,"size":12.4},
"encoding":{"x":{"field":"r","type":"quantitative"},"y":{"field":"id","type":"nominal","scale":{"type":"band","domain":["C2a","C2d","C2b","C2c","C2e"],"range":[177,240],"paddingInner":0,"paddingOuter":0},"axis":null},"color":{"field":"name","type":"nominal"}}}
],
"resolve":{"scale":{"y":"independent"}}}
],
"columns":3,
"align":"each",
"bounds":"flush",
"spacing":{"row":0,"column":100},
"resolve":{"scale":{"color":"independent","fill":"independent"}}
}
